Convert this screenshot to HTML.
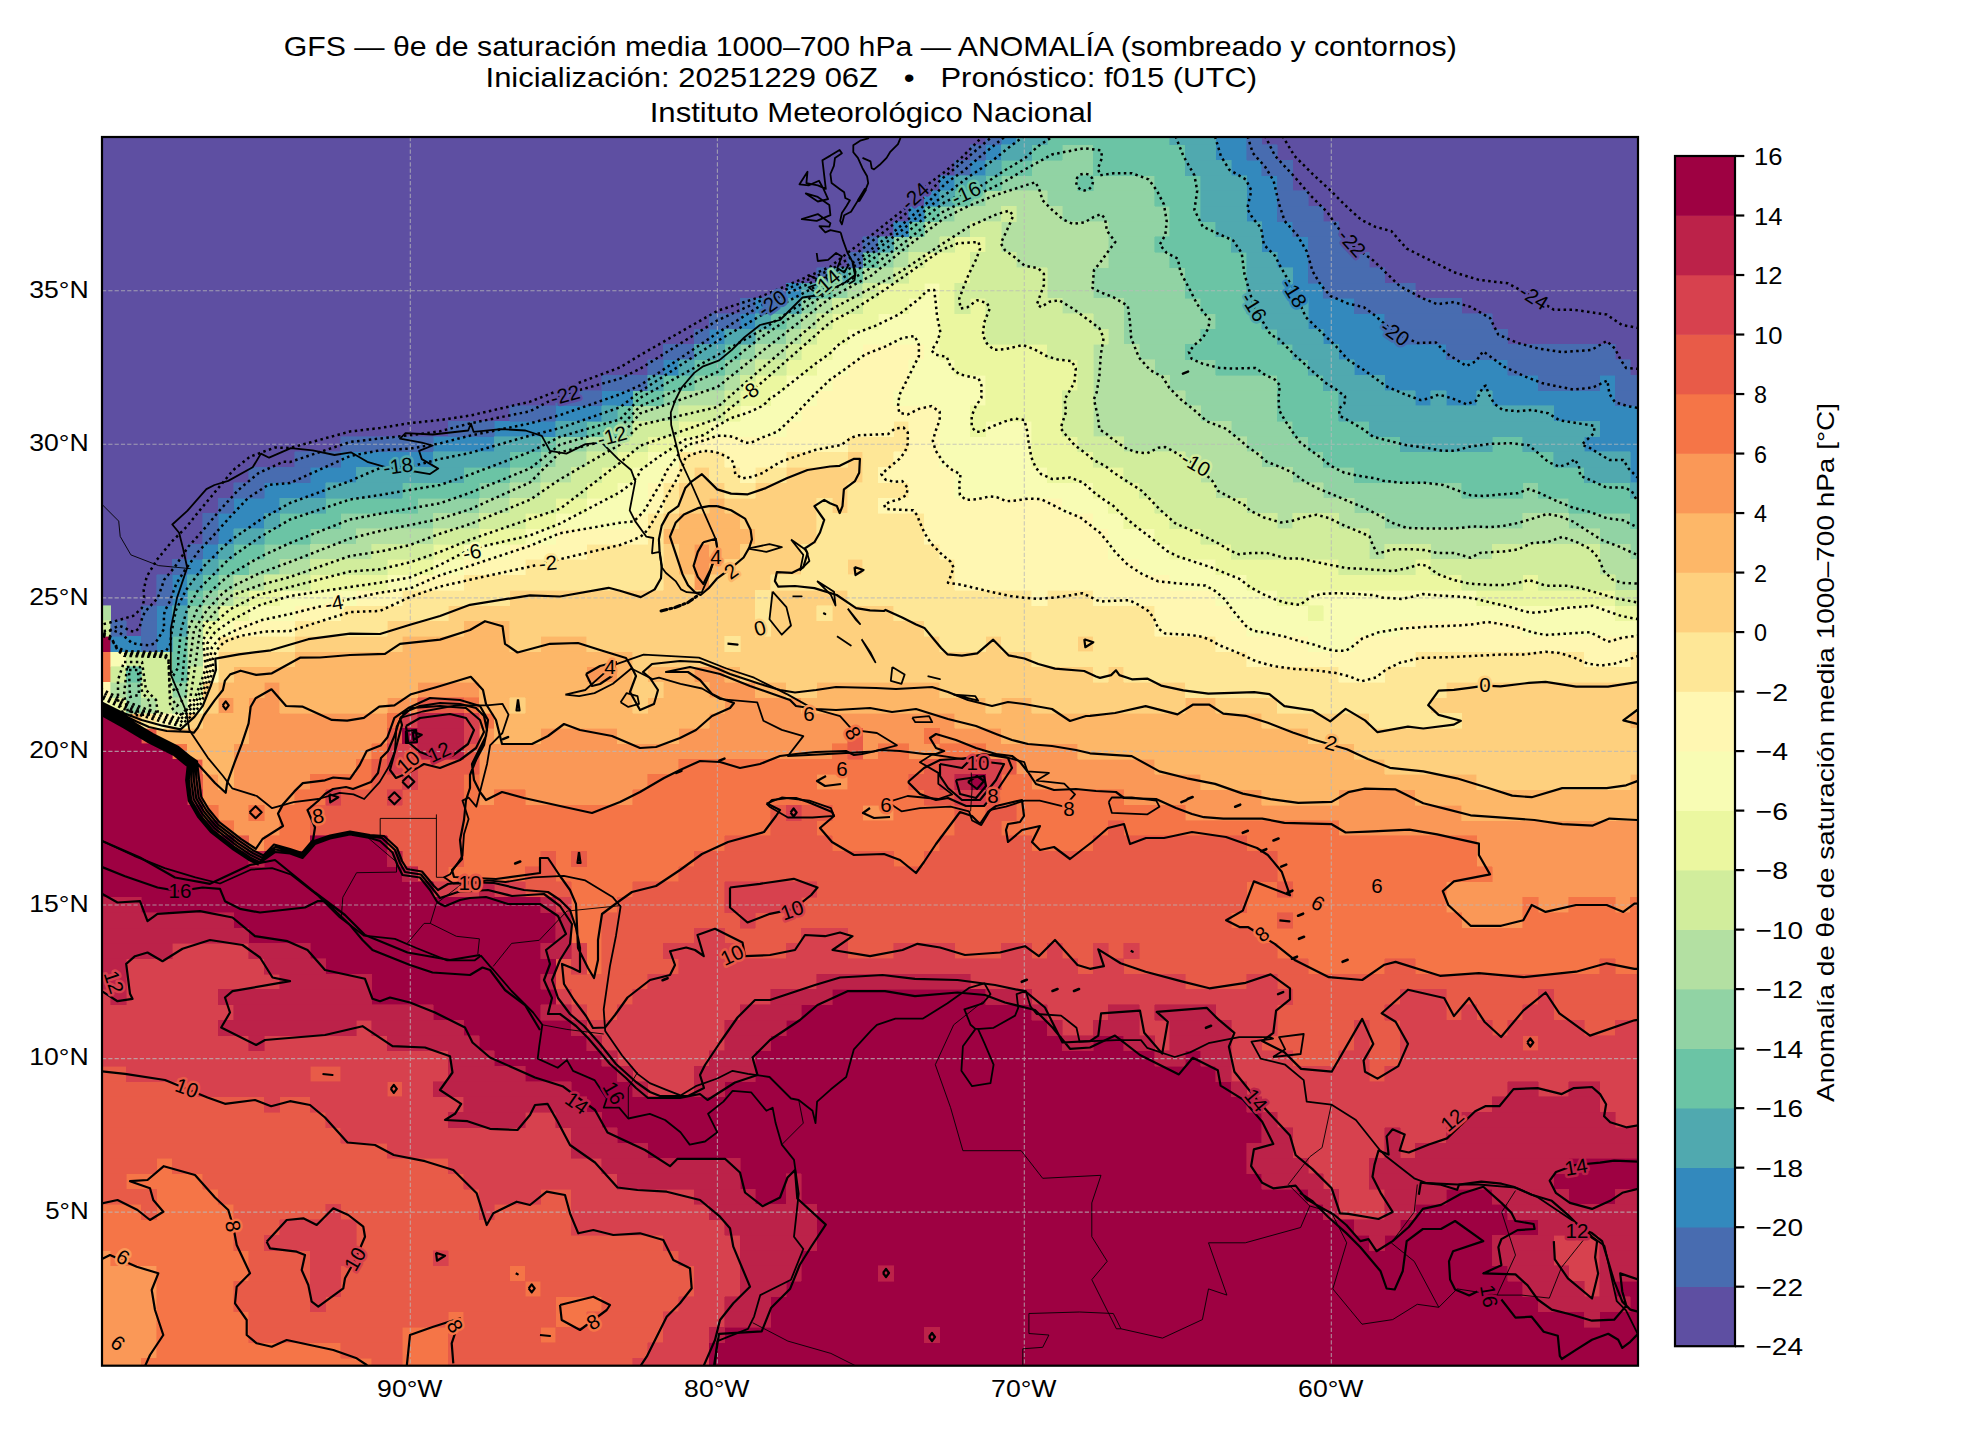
<!DOCTYPE html>
<html><head><meta charset="utf-8"><title>GFS</title><style>html,body{margin:0;padding:0;background:#fff;}svg{display:block;}text{font-family:"Liberation Sans",sans-serif;fill:#000;}</style></head><body>
<svg xmlns="http://www.w3.org/2000/svg" width="1980" height="1440" viewBox="0 0 1980 1440" font-family="Liberation Sans, sans-serif">
<defs><clipPath id="m"><rect x="102.0" y="137.0" width="1536.0" height="1228.7"/></clipPath></defs>
<rect x="0" y="0" width="1980" height="1440" fill="#fff"/>
<rect x="102.0" y="137.0" width="1536.0" height="1228.7" fill="#5e4fa2"/>
<g clip-path="url(#m)">
<path d="M95.35,1358.02H141.40V1373.38H95.35ZM95.35,1342.66H156.75V1358.02H95.35ZM95.35,1327.31H156.75V1342.66H95.35ZM95.35,1311.95H156.75V1327.31H95.35ZM95.35,1296.59H156.75V1311.95H95.35ZM95.35,1281.23H156.75V1296.59H95.35ZM95.35,1265.88H156.75V1281.23H95.35ZM95.35,1250.52H110.70V1265.88H95.35ZM1461.50,912.67H1522.90V928.02H1461.50ZM1446.15,897.31H1522.90V912.67H1446.15ZM1538.25,897.31H1568.95V912.67H1538.25ZM1615.00,897.31H1630.35V912.67H1615.00ZM1446.15,881.95H1661.05V897.31H1446.15ZM1492.20,866.60H1661.05V881.95H1492.20ZM1476.85,851.24H1661.05V866.60H1476.85ZM248.85,835.88H264.20V851.24H248.85ZM1476.85,835.88H1661.05V851.24H1476.85ZM233.50,820.52H279.55V835.88H233.50ZM1338.70,820.52H1661.05V835.88H1338.70ZM218.15,805.17H248.85V820.52H218.15ZM264.20,805.17H279.55V820.52H264.20ZM862.85,805.17H893.55V820.52H862.85ZM1185.20,805.17H1461.50V820.52H1185.20ZM202.80,789.81H294.90V805.17H202.80ZM479.10,789.81H494.45V805.17H479.10ZM525.15,789.81H632.60V805.17H525.15ZM1123.80,789.81H1261.95V805.17H1123.80ZM1338.70,789.81H1415.45V805.17H1338.70ZM202.80,774.45H218.15V789.81H202.80ZM233.50,774.45H310.25V789.81H233.50ZM479.10,774.45H647.95V789.81H479.10ZM816.80,774.45H847.50V789.81H816.80ZM1031.70,774.45H1200.55V789.81H1031.70ZM233.50,759.10H356.30V774.45H233.50ZM479.10,759.10H678.65V774.45H479.10ZM1016.35,759.10H1154.50V774.45H1016.35ZM233.50,743.74H371.65V759.10H233.50ZM479.10,743.74H832.15V759.10H479.10ZM862.85,743.74H878.20V759.10H862.85ZM908.90,743.74H939.60V759.10H908.90ZM985.65,743.74H1077.75V759.10H985.65ZM248.85,728.38H387.00V743.74H248.85ZM479.10,728.38H494.45V743.74H479.10ZM540.50,728.38H617.25V743.74H540.50ZM678.65,728.38H847.50V743.74H678.65ZM862.85,728.38H924.25V743.74H862.85ZM939.60,728.38H1001.00V743.74H939.60ZM248.85,713.03H387.00V728.38H248.85ZM709.35,713.03H954.95V728.38H709.35ZM218.15,697.67H233.50V713.03H218.15ZM248.85,697.67H279.55V713.03H248.85ZM387.00,697.67H417.70V713.03H387.00ZM724.70,697.67H801.45V713.03H724.70ZM264.20,682.31H279.55V697.67H264.20ZM417.70,682.31H479.10V697.67H417.70ZM709.35,682.31H755.40V697.67H709.35ZM586.55,666.96H617.25V682.31H586.55ZM694.00,666.96H724.70V682.31H694.00ZM694.00,574.81H709.35V590.17H694.00ZM694.00,559.46H709.35V574.81H694.00ZM694.00,544.10H709.35V559.46H694.00Z" fill="#fa9857" stroke="#fa9857" stroke-width="0.6" shape-rendering="crispEdges"/>
<path d="M141.40,1358.02H371.65V1373.38H141.40ZM402.35,1358.02H448.40V1373.38H402.35ZM156.75,1342.66H340.95V1358.02H156.75ZM402.35,1342.66H448.40V1358.02H402.35ZM156.75,1327.31H248.85V1342.66H156.75ZM402.35,1327.31H448.40V1342.66H402.35ZM540.50,1327.31H555.85V1342.66H540.50ZM156.75,1311.95H248.85V1327.31H156.75ZM448.40,1311.95H463.75V1327.31H448.40ZM555.85,1311.95H586.55V1327.31H555.85ZM156.75,1296.59H233.50V1311.95H156.75ZM555.85,1296.59H601.90V1311.95H555.85ZM156.75,1281.23H233.50V1296.59H156.75ZM525.15,1281.23H540.50V1296.59H525.15ZM156.75,1265.88H248.85V1281.23H156.75ZM509.80,1265.88H525.15V1281.23H509.80ZM110.70,1250.52H248.85V1265.88H110.70ZM95.35,1235.16H233.50V1250.52H95.35ZM95.35,1219.81H233.50V1235.16H95.35ZM95.35,1204.45H141.40V1219.81H95.35ZM156.75,1204.45H233.50V1219.81H156.75ZM156.75,1189.09H218.15V1204.45H156.75ZM126.05,1173.74H202.80V1189.09H126.05ZM156.75,1158.38H172.10V1173.74H156.75ZM586.55,958.74H601.90V974.10H586.55ZM1308.00,958.74H1384.75V974.10H1308.00ZM1415.45,958.74H1599.65V974.10H1415.45ZM1615.00,958.74H1661.05V974.10H1615.00ZM586.55,943.38H601.90V958.74H586.55ZM1277.30,943.38H1661.05V958.74H1277.30ZM571.20,928.02H601.90V943.38H571.20ZM1261.95,928.02H1661.05V943.38H1261.95ZM571.20,912.67H601.90V928.02H571.20ZM1231.25,912.67H1277.30V928.02H1231.25ZM1292.65,912.67H1461.50V928.02H1292.65ZM1522.90,912.67H1661.05V928.02H1522.90ZM571.20,897.31H617.25V912.67H571.20ZM1246.60,897.31H1446.15V912.67H1246.60ZM1522.90,897.31H1538.25V912.67H1522.90ZM1568.95,897.31H1615.00V912.67H1568.95ZM1630.35,897.31H1661.05V912.67H1630.35ZM571.20,881.95H632.60V897.31H571.20ZM1246.60,881.95H1277.30V897.31H1246.60ZM1292.65,881.95H1446.15V897.31H1292.65ZM448.40,866.60H525.15V881.95H448.40ZM555.85,866.60H678.65V881.95H555.85ZM1277.30,866.60H1492.20V881.95H1277.30ZM463.75,851.24H540.50V866.60H463.75ZM555.85,851.24H571.20V866.60H555.85ZM586.55,851.24H694.00V866.60H586.55ZM893.55,851.24H924.25V866.60H893.55ZM1277.30,851.24H1476.85V866.60H1277.30ZM264.20,835.88H310.25V851.24H264.20ZM463.75,835.88H724.70V851.24H463.75ZM832.15,835.88H939.60V851.24H832.15ZM1031.70,835.88H1093.10V851.24H1031.70ZM1246.60,835.88H1476.85V851.24H1246.60ZM218.15,820.52H233.50V835.88H218.15ZM279.55,820.52H310.25V835.88H279.55ZM463.75,820.52H770.75V835.88H463.75ZM816.80,820.52H954.95V835.88H816.80ZM1001.00,820.52H1108.45V835.88H1001.00ZM1123.80,820.52H1338.70V835.88H1123.80ZM202.80,805.17H218.15V820.52H202.80ZM248.85,805.17H264.20V820.52H248.85ZM279.55,805.17H310.25V820.52H279.55ZM463.75,805.17H770.75V820.52H463.75ZM832.15,805.17H862.85V820.52H832.15ZM893.55,805.17H954.95V820.52H893.55ZM970.30,805.17H985.65V820.52H970.30ZM1016.35,805.17H1185.20V820.52H1016.35ZM294.90,789.81H325.60V805.17H294.90ZM463.75,789.81H479.10V805.17H463.75ZM494.45,789.81H525.15V805.17H494.45ZM632.60,789.81H924.25V805.17H632.60ZM985.65,789.81H1123.80V805.17H985.65ZM310.25,774.45H371.65V789.81H310.25ZM463.75,774.45H479.10V789.81H463.75ZM647.95,774.45H816.80V789.81H647.95ZM847.50,774.45H908.90V789.81H847.50ZM1001.00,774.45H1031.70V789.81H1001.00ZM356.30,759.10H371.65V774.45H356.30ZM678.65,759.10H924.25V774.45H678.65ZM172.10,743.74H187.45V759.10H172.10ZM371.65,743.74H387.00V759.10H371.65ZM832.15,743.74H847.50V759.10H832.15ZM878.20,743.74H908.90V759.10H878.20ZM939.60,743.74H985.65V759.10H939.60ZM924.25,728.38H939.60V743.74H924.25ZM387.00,713.03H402.35V728.38H387.00ZM479.10,713.03H494.45V728.38H479.10ZM463.75,697.67H479.10V713.03H463.75ZM95.35,666.96H110.70V682.31H95.35ZM95.35,651.60H110.70V666.96H95.35Z" fill="#f57547" stroke="#f57547" stroke-width="0.6" shape-rendering="crispEdges"/>
<path d="M371.65,1358.02H402.35V1373.38H371.65ZM448.40,1358.02H632.60V1373.38H448.40ZM340.95,1342.66H402.35V1358.02H340.95ZM448.40,1342.66H647.95V1358.02H448.40ZM248.85,1327.31H402.35V1342.66H248.85ZM448.40,1327.31H540.50V1342.66H448.40ZM555.85,1327.31H663.30V1342.66H555.85ZM248.85,1311.95H448.40V1327.31H248.85ZM463.75,1311.95H555.85V1327.31H463.75ZM586.55,1311.95H663.30V1327.31H586.55ZM233.50,1296.59H310.25V1311.95H233.50ZM325.60,1296.59H555.85V1311.95H325.60ZM601.90,1296.59H678.65V1311.95H601.90ZM233.50,1281.23H310.25V1296.59H233.50ZM340.95,1281.23H525.15V1296.59H340.95ZM540.50,1281.23H694.00V1296.59H540.50ZM248.85,1265.88H310.25V1281.23H248.85ZM340.95,1265.88H509.80V1281.23H340.95ZM525.15,1265.88H694.00V1281.23H525.15ZM248.85,1250.52H310.25V1265.88H248.85ZM356.30,1250.52H433.05V1265.88H356.30ZM448.40,1250.52H678.65V1265.88H448.40ZM233.50,1235.16H264.20V1250.52H233.50ZM356.30,1235.16H663.30V1250.52H356.30ZM233.50,1219.81H279.55V1235.16H233.50ZM356.30,1219.81H571.20V1235.16H356.30ZM141.40,1204.45H156.75V1219.81H141.40ZM233.50,1204.45H325.60V1219.81H233.50ZM340.95,1204.45H479.10V1219.81H340.95ZM494.45,1204.45H571.20V1219.81H494.45ZM95.35,1189.09H156.75V1204.45H95.35ZM218.15,1189.09H479.10V1204.45H218.15ZM540.50,1189.09H571.20V1204.45H540.50ZM95.35,1173.74H126.05V1189.09H95.35ZM202.80,1173.74H463.75V1189.09H202.80ZM95.35,1158.38H156.75V1173.74H95.35ZM172.10,1158.38H448.40V1173.74H172.10ZM95.35,1143.02H387.00V1158.38H95.35ZM95.35,1127.66H340.95V1143.02H95.35ZM95.35,1112.31H325.60V1127.66H95.35ZM95.35,1096.95H264.20V1112.31H95.35ZM279.55,1096.95H310.25V1112.31H279.55ZM95.35,1081.59H187.45V1096.95H95.35ZM387.00,1081.59H402.35V1096.95H387.00ZM95.35,1066.24H126.05V1081.59H95.35ZM310.25,1066.24H340.95V1081.59H310.25ZM1369.40,1066.24H1384.75V1081.59H1369.40ZM1292.65,1050.88H1338.70V1066.24H1292.65ZM1369.40,1050.88H1400.10V1066.24H1369.40ZM1261.95,1035.52H1354.05V1050.88H1261.95ZM1369.40,1035.52H1400.10V1050.88H1369.40ZM1522.90,1035.52H1538.25V1050.88H1522.90ZM1277.30,1020.17H1354.05V1035.52H1277.30ZM1369.40,1020.17H1400.10V1035.52H1369.40ZM1492.20,1020.17H1507.55V1035.52H1492.20ZM1584.30,1020.17H1615.00V1035.52H1584.30ZM586.55,1004.81H617.25V1020.17H586.55ZM1277.30,1004.81H1384.75V1020.17H1277.30ZM1446.15,1004.81H1461.50V1020.17H1446.15ZM1476.85,1004.81H1522.90V1020.17H1476.85ZM1553.60,1004.81H1661.05V1020.17H1553.60ZM571.20,989.45H632.60V1004.81H571.20ZM1292.65,989.45H1400.10V1004.81H1292.65ZM1446.15,989.45H1538.25V1004.81H1446.15ZM1553.60,989.45H1661.05V1004.81H1553.60ZM555.85,974.10H647.95V989.45H555.85ZM1185.20,974.10H1246.60V989.45H1185.20ZM1277.30,974.10H1661.05V989.45H1277.30ZM555.85,958.74H571.20V974.10H555.85ZM601.90,958.74H678.65V974.10H601.90ZM1077.75,958.74H1093.10V974.10H1077.75ZM1123.80,958.74H1308.00V974.10H1123.80ZM1384.75,958.74H1415.45V974.10H1384.75ZM1599.65,958.74H1615.00V974.10H1599.65ZM601.90,943.38H663.30V958.74H601.90ZM740.05,943.38H786.10V958.74H740.05ZM847.50,943.38H893.55V958.74H847.50ZM954.95,943.38H1001.00V958.74H954.95ZM1031.70,943.38H1047.05V958.74H1031.70ZM1062.40,943.38H1093.10V958.74H1062.40ZM1108.45,943.38H1123.80V958.74H1108.45ZM1139.15,943.38H1277.30V958.74H1139.15ZM601.90,928.02H694.00V943.38H601.90ZM724.70,928.02H801.45V943.38H724.70ZM847.50,928.02H1261.95V943.38H847.50ZM601.90,912.67H740.05V928.02H601.90ZM755.40,912.67H1231.25V928.02H755.40ZM1277.30,912.67H1292.65V928.02H1277.30ZM617.25,897.31H724.70V912.67H617.25ZM801.45,897.31H1246.60V912.67H801.45ZM525.15,881.95H571.20V897.31H525.15ZM632.60,881.95H724.70V897.31H632.60ZM816.80,881.95H1246.60V897.31H816.80ZM1277.30,881.95H1292.65V897.31H1277.30ZM417.70,866.60H448.40V881.95H417.70ZM525.15,866.60H555.85V881.95H525.15ZM678.65,866.60H1277.30V881.95H678.65ZM402.35,851.24H463.75V866.60H402.35ZM540.50,851.24H555.85V866.60H540.50ZM571.20,851.24H586.55V866.60H571.20ZM694.00,851.24H893.55V866.60H694.00ZM924.25,851.24H1277.30V866.60H924.25ZM233.50,835.88H248.85V851.24H233.50ZM387.00,835.88H463.75V851.24H387.00ZM724.70,835.88H832.15V851.24H724.70ZM939.60,835.88H1031.70V851.24H939.60ZM1093.10,835.88H1246.60V851.24H1093.10ZM310.25,820.52H463.75V835.88H310.25ZM770.75,820.52H816.80V835.88H770.75ZM954.95,820.52H1001.00V835.88H954.95ZM1108.45,820.52H1123.80V835.88H1108.45ZM310.25,805.17H463.75V820.52H310.25ZM770.75,805.17H786.10V820.52H770.75ZM801.45,805.17H832.15V820.52H801.45ZM954.95,805.17H970.30V820.52H954.95ZM985.65,805.17H1016.35V820.52H985.65ZM340.95,789.81H387.00V805.17H340.95ZM402.35,789.81H463.75V805.17H402.35ZM924.25,789.81H954.95V805.17H924.25ZM187.45,774.45H202.80V789.81H187.45ZM371.65,774.45H402.35V789.81H371.65ZM417.70,774.45H463.75V789.81H417.70ZM908.90,774.45H939.60V789.81H908.90ZM187.45,759.10H202.80V774.45H187.45ZM371.65,759.10H387.00V774.45H371.65ZM417.70,759.10H479.10V774.45H417.70ZM924.25,759.10H939.60V774.45H924.25ZM1001.00,759.10H1016.35V774.45H1001.00ZM463.75,743.74H479.10V759.10H463.75ZM847.50,743.74H862.85V759.10H847.50ZM141.40,728.38H156.75V743.74H141.40ZM387.00,728.38H402.35V743.74H387.00ZM847.50,728.38H862.85V743.74H847.50ZM417.70,697.67H463.75V713.03H417.70Z" fill="#e85b48" stroke="#e85b48" stroke-width="0.6" shape-rendering="crispEdges"/>
<path d="M632.60,1358.02H709.35V1373.38H632.60ZM647.95,1342.66H709.35V1358.02H647.95ZM663.30,1327.31H709.35V1342.66H663.30ZM663.30,1311.95H724.70V1327.31H663.30ZM310.25,1296.59H325.60V1311.95H310.25ZM678.65,1296.59H724.70V1311.95H678.65ZM310.25,1281.23H340.95V1296.59H310.25ZM694.00,1281.23H740.05V1296.59H694.00ZM1584.30,1281.23H1599.65V1296.59H1584.30ZM310.25,1265.88H340.95V1281.23H310.25ZM694.00,1265.88H740.05V1281.23H694.00ZM1568.95,1265.88H1599.65V1281.23H1568.95ZM310.25,1250.52H356.30V1265.88H310.25ZM433.05,1250.52H448.40V1265.88H433.05ZM678.65,1250.52H740.05V1265.88H678.65ZM1553.60,1250.52H1599.65V1265.88H1553.60ZM264.20,1235.16H356.30V1250.52H264.20ZM663.30,1235.16H740.05V1250.52H663.30ZM1553.60,1235.16H1599.65V1250.52H1553.60ZM279.55,1219.81H356.30V1235.16H279.55ZM571.20,1219.81H724.70V1235.16H571.20ZM325.60,1204.45H340.95V1219.81H325.60ZM479.10,1204.45H494.45V1219.81H479.10ZM571.20,1204.45H709.35V1219.81H571.20ZM1338.70,1204.45H1384.75V1219.81H1338.70ZM479.10,1189.09H540.50V1204.45H479.10ZM571.20,1189.09H694.00V1204.45H571.20ZM1338.70,1189.09H1384.75V1204.45H1338.70ZM463.75,1173.74H617.25V1189.09H463.75ZM1323.35,1173.74H1369.40V1189.09H1323.35ZM448.40,1158.38H601.90V1173.74H448.40ZM1308.00,1158.38H1369.40V1173.74H1308.00ZM387.00,1143.02H571.20V1158.38H387.00ZM1292.65,1143.02H1384.75V1158.38H1292.65ZM1400.10,1143.02H1415.45V1158.38H1400.10ZM340.95,1127.66H571.20V1143.02H340.95ZM1292.65,1127.66H1384.75V1143.02H1292.65ZM1400.10,1127.66H1446.15V1143.02H1400.10ZM325.60,1112.31H448.40V1127.66H325.60ZM525.15,1112.31H555.85V1127.66H525.15ZM1277.30,1112.31H1461.50V1127.66H1277.30ZM1615.00,1112.31H1661.05V1127.66H1615.00ZM264.20,1096.95H279.55V1112.31H264.20ZM310.25,1096.95H463.75V1112.31H310.25ZM1261.95,1096.95H1492.20V1112.31H1261.95ZM1599.65,1096.95H1661.05V1112.31H1599.65ZM187.45,1081.59H387.00V1096.95H187.45ZM402.35,1081.59H433.05V1096.95H402.35ZM647.95,1081.59H694.00V1096.95H647.95ZM1246.60,1081.59H1507.55V1096.95H1246.60ZM1538.25,1081.59H1568.95V1096.95H1538.25ZM1599.65,1081.59H1661.05V1096.95H1599.65ZM126.05,1066.24H310.25V1081.59H126.05ZM340.95,1066.24H448.40V1081.59H340.95ZM632.60,1066.24H694.00V1081.59H632.60ZM1231.25,1066.24H1369.40V1081.59H1231.25ZM1384.75,1066.24H1661.05V1081.59H1384.75ZM95.35,1050.88H448.40V1066.24H95.35ZM617.25,1050.88H709.35V1066.24H617.25ZM1231.25,1050.88H1292.65V1066.24H1231.25ZM1338.70,1050.88H1369.40V1066.24H1338.70ZM1400.10,1050.88H1661.05V1066.24H1400.10ZM95.35,1035.52H248.85V1050.88H95.35ZM264.20,1035.52H387.00V1050.88H264.20ZM601.90,1035.52H724.70V1050.88H601.90ZM1154.50,1035.52H1169.85V1050.88H1154.50ZM1231.25,1035.52H1261.95V1050.88H1231.25ZM1354.05,1035.52H1369.40V1050.88H1354.05ZM1400.10,1035.52H1522.90V1050.88H1400.10ZM1538.25,1035.52H1661.05V1050.88H1538.25ZM95.35,1020.17H218.15V1035.52H95.35ZM356.30,1020.17H371.65V1035.52H356.30ZM586.55,1020.17H724.70V1035.52H586.55ZM1062.40,1020.17H1093.10V1035.52H1062.40ZM1139.15,1020.17H1169.85V1035.52H1139.15ZM1231.25,1020.17H1277.30V1035.52H1231.25ZM1354.05,1020.17H1369.40V1035.52H1354.05ZM1400.10,1020.17H1492.20V1035.52H1400.10ZM1507.55,1020.17H1584.30V1035.52H1507.55ZM1615.00,1020.17H1661.05V1035.52H1615.00ZM95.35,1004.81H233.50V1020.17H95.35ZM571.20,1004.81H586.55V1020.17H571.20ZM617.25,1004.81H740.05V1020.17H617.25ZM1047.05,1004.81H1108.45V1020.17H1047.05ZM1139.15,1004.81H1154.50V1020.17H1139.15ZM1215.90,1004.81H1277.30V1020.17H1215.90ZM1384.75,1004.81H1446.15V1020.17H1384.75ZM1461.50,1004.81H1476.85V1020.17H1461.50ZM1522.90,1004.81H1553.60V1020.17H1522.90ZM95.35,989.45H110.70V1004.81H95.35ZM126.05,989.45H218.15V1004.81H126.05ZM555.85,989.45H571.20V1004.81H555.85ZM632.60,989.45H770.75V1004.81H632.60ZM1031.70,989.45H1292.65V1004.81H1031.70ZM1400.10,989.45H1446.15V1004.81H1400.10ZM1538.25,989.45H1553.60V1004.81H1538.25ZM126.05,974.10H279.55V989.45H126.05ZM647.95,974.10H816.80V989.45H647.95ZM970.30,974.10H1185.20V989.45H970.30ZM1246.60,974.10H1277.30V989.45H1246.60ZM126.05,958.74H264.20V974.10H126.05ZM571.20,958.74H586.55V974.10H571.20ZM678.65,958.74H1077.75V974.10H678.65ZM1093.10,958.74H1123.80V974.10H1093.10ZM172.10,943.38H248.85V958.74H172.10ZM571.20,943.38H586.55V958.74H571.20ZM663.30,943.38H740.05V958.74H663.30ZM786.10,943.38H847.50V958.74H786.10ZM893.55,943.38H954.95V958.74H893.55ZM1001.00,943.38H1031.70V958.74H1001.00ZM1047.05,943.38H1062.40V958.74H1047.05ZM1093.10,943.38H1108.45V958.74H1093.10ZM1123.80,943.38H1139.15V958.74H1123.80ZM694.00,928.02H724.70V943.38H694.00ZM801.45,928.02H847.50V943.38H801.45ZM740.05,912.67H755.40V928.02H740.05ZM555.85,897.31H571.20V912.67H555.85ZM724.70,897.31H801.45V912.67H724.70ZM433.05,881.95H479.10V897.31H433.05ZM494.45,881.95H525.15V897.31H494.45ZM724.70,881.95H816.80V897.31H724.70ZM786.10,805.17H801.45V820.52H786.10ZM187.45,789.81H202.80V805.17H187.45ZM325.60,789.81H340.95V805.17H325.60ZM387.00,789.81H402.35V805.17H387.00ZM954.95,789.81H985.65V805.17H954.95ZM402.35,774.45H417.70V789.81H402.35ZM939.60,774.45H954.95V789.81H939.60ZM985.65,774.45H1001.00V789.81H985.65ZM387.00,759.10H417.70V774.45H387.00ZM939.60,759.10H1001.00V774.45H939.60ZM387.00,743.74H417.70V759.10H387.00ZM463.75,728.38H479.10V743.74H463.75ZM402.35,713.03H417.70V728.38H402.35ZM463.75,713.03H479.10V728.38H463.75Z" fill="#d7414e" stroke="#d7414e" stroke-width="0.6" shape-rendering="crispEdges"/>
<path d="M709.35,1358.02H1661.05V1373.38H709.35ZM709.35,1342.66H1661.05V1358.02H709.35ZM724.70,1327.31H924.25V1342.66H724.70ZM939.60,1327.31H1661.05V1342.66H939.60ZM770.75,1311.95H1584.30V1327.31H770.75ZM1599.65,1311.95H1661.05V1327.31H1599.65ZM770.75,1296.59H1538.25V1311.95H770.75ZM1630.35,1296.59H1661.05V1311.95H1630.35ZM786.10,1281.23H1522.90V1296.59H786.10ZM1615.00,1281.23H1661.05V1296.59H1615.00ZM801.45,1265.88H878.20V1281.23H801.45ZM893.55,1265.88H1507.55V1281.23H893.55ZM801.45,1250.52H1492.20V1265.88H801.45ZM816.80,1235.16H1369.40V1250.52H816.80ZM1384.75,1235.16H1492.20V1250.52H1384.75ZM816.80,1219.81H1354.05V1235.16H816.80ZM1400.10,1219.81H1538.25V1235.16H1400.10ZM816.80,1204.45H1323.35V1219.81H816.80ZM1415.45,1204.45H1507.55V1219.81H1415.45ZM755.40,1189.09H786.10V1204.45H755.40ZM801.45,1189.09H1308.00V1204.45H801.45ZM1446.15,1189.09H1492.20V1204.45H1446.15ZM1568.95,1189.09H1615.00V1204.45H1568.95ZM740.05,1173.74H786.10V1189.09H740.05ZM801.45,1173.74H1261.95V1189.09H801.45ZM1553.60,1173.74H1661.05V1189.09H1553.60ZM740.05,1158.38H1246.60V1173.74H740.05ZM1568.95,1158.38H1661.05V1173.74H1568.95ZM647.95,1143.02H1246.60V1158.38H647.95ZM617.25,1127.66H1261.95V1143.02H617.25ZM601.90,1112.31H1261.95V1127.66H601.90ZM586.55,1096.95H1246.60V1112.31H586.55ZM571.20,1081.59H632.60V1096.95H571.20ZM724.70,1081.59H1231.25V1096.95H724.70ZM525.15,1066.24H617.25V1081.59H525.15ZM755.40,1066.24H1215.90V1081.59H755.40ZM494.45,1050.88H601.90V1066.24H494.45ZM755.40,1050.88H1154.50V1066.24H755.40ZM1185.20,1050.88H1200.55V1066.24H1185.20ZM479.10,1035.52H586.55V1050.88H479.10ZM770.75,1035.52H1062.40V1050.88H770.75ZM1093.10,1035.52H1123.80V1050.88H1093.10ZM463.75,1020.17H571.20V1035.52H463.75ZM786.10,1020.17H1047.05V1035.52H786.10ZM433.05,1004.81H540.50V1020.17H433.05ZM801.45,1004.81H1031.70V1020.17H801.45ZM371.65,989.45H555.85V1004.81H371.65ZM832.15,989.45H985.65V1004.81H832.15ZM371.65,974.10H540.50V989.45H371.65ZM325.60,958.74H555.85V974.10H325.60ZM310.25,943.38H540.50V958.74H310.25ZM248.85,928.02H555.85V943.38H248.85ZM233.50,912.67H555.85V928.02H233.50ZM141.40,897.31H540.50V912.67H141.40ZM95.35,881.95H433.05V897.31H95.35ZM95.35,866.60H402.35V881.95H95.35ZM95.35,851.24H248.85V866.60H95.35ZM264.20,851.24H387.00V866.60H264.20ZM95.35,835.88H233.50V851.24H95.35ZM310.25,835.88H387.00V851.24H310.25ZM95.35,820.52H218.15V835.88H95.35ZM95.35,805.17H202.80V820.52H95.35ZM95.35,789.81H187.45V805.17H95.35ZM95.35,774.45H187.45V789.81H95.35ZM970.30,774.45H985.65V789.81H970.30ZM95.35,759.10H187.45V774.45H95.35ZM95.35,743.74H172.10V759.10H95.35ZM95.35,728.38H141.40V743.74H95.35ZM402.35,728.38H417.70V743.74H402.35ZM95.35,713.03H126.05V728.38H95.35ZM95.35,636.24H110.70V651.60H95.35Z" fill="#9e0142" stroke="#9e0142" stroke-width="0.6" shape-rendering="crispEdges"/>
<path d="M709.35,1327.31H724.70V1342.66H709.35ZM924.25,1327.31H939.60V1342.66H924.25ZM724.70,1311.95H770.75V1327.31H724.70ZM1584.30,1311.95H1599.65V1327.31H1584.30ZM724.70,1296.59H770.75V1311.95H724.70ZM1538.25,1296.59H1630.35V1311.95H1538.25ZM740.05,1281.23H786.10V1296.59H740.05ZM1522.90,1281.23H1584.30V1296.59H1522.90ZM1599.65,1281.23H1615.00V1296.59H1599.65ZM740.05,1265.88H801.45V1281.23H740.05ZM878.20,1265.88H893.55V1281.23H878.20ZM1507.55,1265.88H1568.95V1281.23H1507.55ZM1599.65,1265.88H1661.05V1281.23H1599.65ZM740.05,1250.52H801.45V1265.88H740.05ZM1492.20,1250.52H1553.60V1265.88H1492.20ZM1599.65,1250.52H1661.05V1265.88H1599.65ZM740.05,1235.16H816.80V1250.52H740.05ZM1369.40,1235.16H1384.75V1250.52H1369.40ZM1492.20,1235.16H1553.60V1250.52H1492.20ZM1599.65,1235.16H1661.05V1250.52H1599.65ZM724.70,1219.81H816.80V1235.16H724.70ZM1354.05,1219.81H1400.10V1235.16H1354.05ZM1538.25,1219.81H1661.05V1235.16H1538.25ZM709.35,1204.45H816.80V1219.81H709.35ZM1323.35,1204.45H1338.70V1219.81H1323.35ZM1384.75,1204.45H1415.45V1219.81H1384.75ZM1507.55,1204.45H1661.05V1219.81H1507.55ZM694.00,1189.09H755.40V1204.45H694.00ZM786.10,1189.09H801.45V1204.45H786.10ZM1308.00,1189.09H1338.70V1204.45H1308.00ZM1384.75,1189.09H1446.15V1204.45H1384.75ZM1492.20,1189.09H1568.95V1204.45H1492.20ZM1615.00,1189.09H1661.05V1204.45H1615.00ZM617.25,1173.74H740.05V1189.09H617.25ZM786.10,1173.74H801.45V1189.09H786.10ZM1261.95,1173.74H1323.35V1189.09H1261.95ZM1369.40,1173.74H1553.60V1189.09H1369.40ZM601.90,1158.38H740.05V1173.74H601.90ZM1246.60,1158.38H1308.00V1173.74H1246.60ZM1369.40,1158.38H1568.95V1173.74H1369.40ZM571.20,1143.02H647.95V1158.38H571.20ZM1246.60,1143.02H1292.65V1158.38H1246.60ZM1384.75,1143.02H1400.10V1158.38H1384.75ZM1415.45,1143.02H1661.05V1158.38H1415.45ZM571.20,1127.66H617.25V1143.02H571.20ZM1261.95,1127.66H1292.65V1143.02H1261.95ZM1384.75,1127.66H1400.10V1143.02H1384.75ZM1446.15,1127.66H1661.05V1143.02H1446.15ZM448.40,1112.31H525.15V1127.66H448.40ZM555.85,1112.31H601.90V1127.66H555.85ZM1261.95,1112.31H1277.30V1127.66H1261.95ZM1461.50,1112.31H1615.00V1127.66H1461.50ZM463.75,1096.95H586.55V1112.31H463.75ZM1246.60,1096.95H1261.95V1112.31H1246.60ZM1492.20,1096.95H1599.65V1112.31H1492.20ZM433.05,1081.59H571.20V1096.95H433.05ZM632.60,1081.59H647.95V1096.95H632.60ZM694.00,1081.59H724.70V1096.95H694.00ZM1231.25,1081.59H1246.60V1096.95H1231.25ZM1507.55,1081.59H1538.25V1096.95H1507.55ZM1568.95,1081.59H1599.65V1096.95H1568.95ZM448.40,1066.24H525.15V1081.59H448.40ZM617.25,1066.24H632.60V1081.59H617.25ZM694.00,1066.24H755.40V1081.59H694.00ZM1215.90,1066.24H1231.25V1081.59H1215.90ZM448.40,1050.88H494.45V1066.24H448.40ZM601.90,1050.88H617.25V1066.24H601.90ZM709.35,1050.88H755.40V1066.24H709.35ZM1154.50,1050.88H1185.20V1066.24H1154.50ZM1200.55,1050.88H1231.25V1066.24H1200.55ZM248.85,1035.52H264.20V1050.88H248.85ZM387.00,1035.52H479.10V1050.88H387.00ZM586.55,1035.52H601.90V1050.88H586.55ZM724.70,1035.52H770.75V1050.88H724.70ZM1062.40,1035.52H1093.10V1050.88H1062.40ZM1123.80,1035.52H1154.50V1050.88H1123.80ZM1169.85,1035.52H1231.25V1050.88H1169.85ZM218.15,1020.17H356.30V1035.52H218.15ZM371.65,1020.17H463.75V1035.52H371.65ZM571.20,1020.17H586.55V1035.52H571.20ZM724.70,1020.17H786.10V1035.52H724.70ZM1047.05,1020.17H1062.40V1035.52H1047.05ZM1093.10,1020.17H1139.15V1035.52H1093.10ZM1169.85,1020.17H1231.25V1035.52H1169.85ZM233.50,1004.81H433.05V1020.17H233.50ZM540.50,1004.81H571.20V1020.17H540.50ZM740.05,1004.81H801.45V1020.17H740.05ZM1031.70,1004.81H1047.05V1020.17H1031.70ZM1108.45,1004.81H1139.15V1020.17H1108.45ZM1154.50,1004.81H1215.90V1020.17H1154.50ZM110.70,989.45H126.05V1004.81H110.70ZM218.15,989.45H371.65V1004.81H218.15ZM770.75,989.45H832.15V1004.81H770.75ZM985.65,989.45H1031.70V1004.81H985.65ZM95.35,974.10H126.05V989.45H95.35ZM279.55,974.10H371.65V989.45H279.55ZM540.50,974.10H555.85V989.45H540.50ZM816.80,974.10H970.30V989.45H816.80ZM95.35,958.74H126.05V974.10H95.35ZM264.20,958.74H325.60V974.10H264.20ZM95.35,943.38H172.10V958.74H95.35ZM248.85,943.38H310.25V958.74H248.85ZM540.50,943.38H571.20V958.74H540.50ZM95.35,928.02H248.85V943.38H95.35ZM555.85,928.02H571.20V943.38H555.85ZM95.35,912.67H233.50V928.02H95.35ZM555.85,912.67H571.20V928.02H555.85ZM95.35,897.31H141.40V912.67H95.35ZM540.50,897.31H555.85V912.67H540.50ZM479.10,881.95H494.45V897.31H479.10ZM402.35,866.60H417.70V881.95H402.35ZM248.85,851.24H264.20V866.60H248.85ZM387.00,851.24H402.35V866.60H387.00ZM954.95,774.45H970.30V789.81H954.95ZM417.70,743.74H463.75V759.10H417.70ZM417.70,728.38H463.75V743.74H417.70ZM417.70,713.03H463.75V728.38H417.70Z" fill="#bc2249" stroke="#bc2249" stroke-width="0.6" shape-rendering="crispEdges"/>
<path d="M1461.50,805.17H1661.05V820.52H1461.50ZM1261.95,789.81H1338.70V805.17H1261.95ZM1415.45,789.81H1661.05V805.17H1415.45ZM218.15,774.45H233.50V789.81H218.15ZM1200.55,774.45H1476.85V789.81H1200.55ZM1630.35,774.45H1661.05V789.81H1630.35ZM202.80,759.10H233.50V774.45H202.80ZM1154.50,759.10H1384.75V774.45H1154.50ZM187.45,743.74H233.50V759.10H187.45ZM1077.75,743.74H1354.05V759.10H1077.75ZM156.75,728.38H248.85V743.74H156.75ZM494.45,728.38H540.50V743.74H494.45ZM617.25,728.38H678.65V743.74H617.25ZM1001.00,728.38H1308.00V743.74H1001.00ZM126.05,713.03H141.40V728.38H126.05ZM202.80,713.03H248.85V728.38H202.80ZM494.45,713.03H709.35V728.38H494.45ZM954.95,713.03H1261.95V728.38H954.95ZM1630.35,713.03H1661.05V728.38H1630.35ZM233.50,697.67H248.85V713.03H233.50ZM279.55,697.67H387.00V713.03H279.55ZM479.10,697.67H509.80V713.03H479.10ZM525.15,697.67H632.60V713.03H525.15ZM647.95,697.67H724.70V713.03H647.95ZM801.45,697.67H985.65V713.03H801.45ZM1001.00,697.67H1031.70V713.03H1001.00ZM1185.20,697.67H1215.90V713.03H1185.20ZM218.15,682.31H264.20V697.67H218.15ZM279.55,682.31H417.70V697.67H279.55ZM479.10,682.31H632.60V697.67H479.10ZM663.30,682.31H709.35V697.67H663.30ZM755.40,682.31H786.10V697.67H755.40ZM816.80,682.31H939.60V697.67H816.80ZM233.50,666.96H586.55V682.31H233.50ZM617.25,666.96H632.60V682.31H617.25ZM647.95,666.96H694.00V682.31H647.95ZM724.70,666.96H740.05V682.31H724.70ZM294.90,651.60H632.60V666.96H294.90ZM402.35,636.24H509.80V651.60H402.35ZM540.50,636.24H586.55V651.60H540.50ZM463.75,620.88H509.80V636.24H463.75ZM678.65,559.46H694.00V574.81H678.65ZM709.35,559.46H724.70V574.81H709.35ZM678.65,544.10H694.00V559.46H678.65ZM709.35,544.10H740.05V559.46H709.35ZM663.30,528.74H755.40V544.10H663.30ZM678.65,513.38H740.05V528.74H678.65ZM709.35,498.03H724.70V513.38H709.35Z" fill="#fdb768" stroke="#fdb768" stroke-width="0.6" shape-rendering="crispEdges"/>
<path d="M1476.85,774.45H1630.35V789.81H1476.85ZM1384.75,759.10H1661.05V774.45H1384.75ZM1354.05,743.74H1661.05V759.10H1354.05ZM1308.00,728.38H1661.05V743.74H1308.00ZM187.45,713.03H202.80V728.38H187.45ZM1261.95,713.03H1369.40V728.38H1261.95ZM1461.50,713.03H1630.35V728.38H1461.50ZM202.80,697.67H218.15V713.03H202.80ZM509.80,697.67H525.15V713.03H509.80ZM632.60,697.67H647.95V713.03H632.60ZM985.65,697.67H1001.00V713.03H985.65ZM1031.70,697.67H1185.20V713.03H1031.70ZM1215.90,697.67H1277.30V713.03H1215.90ZM1430.80,697.67H1661.05V713.03H1430.80ZM202.80,682.31H218.15V697.67H202.80ZM632.60,682.31H663.30V697.67H632.60ZM786.10,682.31H816.80V697.67H786.10ZM939.60,682.31H1185.20V697.67H939.60ZM1446.15,682.31H1661.05V697.67H1446.15ZM218.15,666.96H233.50V682.31H218.15ZM632.60,666.96H647.95V682.31H632.60ZM740.05,666.96H1093.10V682.31H740.05ZM1108.45,666.96H1123.80V682.31H1108.45ZM218.15,651.60H294.90V666.96H218.15ZM632.60,651.60H1031.70V666.96H632.60ZM294.90,636.24H402.35V651.60H294.90ZM509.80,636.24H540.50V651.60H509.80ZM586.55,636.24H724.70V651.60H586.55ZM740.05,636.24H939.60V651.60H740.05ZM985.65,636.24H1001.00V651.60H985.65ZM1077.75,636.24H1093.10V651.60H1077.75ZM387.00,620.88H463.75V636.24H387.00ZM509.80,620.88H755.40V636.24H509.80ZM770.75,620.88H924.25V636.24H770.75ZM448.40,605.53H755.40V620.88H448.40ZM770.75,605.53H816.80V620.88H770.75ZM832.15,605.53H893.55V620.88H832.15ZM509.80,590.17H755.40V605.53H509.80ZM770.75,590.17H847.50V605.53H770.75ZM663.30,574.81H694.00V590.17H663.30ZM709.35,574.81H770.75V590.17H709.35ZM663.30,559.46H678.65V574.81H663.30ZM724.70,559.46H801.45V574.81H724.70ZM847.50,559.46H862.85V574.81H847.50ZM663.30,544.10H678.65V559.46H663.30ZM740.05,544.10H801.45V559.46H740.05ZM755.40,528.74H816.80V544.10H755.40ZM663.30,513.38H678.65V528.74H663.30ZM740.05,513.38H816.80V528.74H740.05ZM678.65,498.03H709.35V513.38H678.65ZM724.70,498.03H816.80V513.38H724.70ZM832.15,498.03H847.50V513.38H832.15ZM678.65,482.67H724.70V498.03H678.65ZM755.40,482.67H847.50V498.03H755.40ZM694.00,467.31H709.35V482.67H694.00ZM786.10,467.31H862.85V482.67H786.10ZM847.50,451.96H862.85V467.31H847.50Z" fill="#fed07e" stroke="#fed07e" stroke-width="0.6" shape-rendering="crispEdges"/>
<path d="M141.40,713.03H156.75V728.38H141.40ZM1369.40,713.03H1461.50V728.38H1369.40ZM1277.30,697.67H1430.80V713.03H1277.30ZM1185.20,682.31H1446.15V697.67H1185.20ZM1093.10,666.96H1108.45V682.31H1093.10ZM1123.80,666.96H1338.70V682.31H1123.80ZM1384.75,666.96H1661.05V682.31H1384.75ZM1031.70,651.60H1246.60V666.96H1031.70ZM1415.45,651.60H1584.30V666.96H1415.45ZM1630.35,651.60H1661.05V666.96H1630.35ZM218.15,636.24H294.90V651.60H218.15ZM724.70,636.24H740.05V651.60H724.70ZM939.60,636.24H985.65V651.60H939.60ZM1001.00,636.24H1077.75V651.60H1001.00ZM1093.10,636.24H1215.90V651.60H1093.10ZM294.90,620.88H387.00V636.24H294.90ZM755.40,620.88H770.75V636.24H755.40ZM924.25,620.88H1154.50V636.24H924.25ZM340.95,605.53H448.40V620.88H340.95ZM755.40,605.53H770.75V620.88H755.40ZM816.80,605.53H832.15V620.88H816.80ZM893.55,605.53H1154.50V620.88H893.55ZM402.35,590.17H509.80V605.53H402.35ZM755.40,590.17H770.75V605.53H755.40ZM847.50,590.17H1031.70V605.53H847.50ZM1047.05,590.17H1093.10V605.53H1047.05ZM463.75,574.81H663.30V590.17H463.75ZM770.75,574.81H954.95V590.17H770.75ZM525.15,559.46H663.30V574.81H525.15ZM801.45,559.46H847.50V574.81H801.45ZM862.85,559.46H954.95V574.81H862.85ZM586.55,544.10H663.30V559.46H586.55ZM801.45,544.10H939.60V559.46H801.45ZM647.95,528.74H663.30V544.10H647.95ZM816.80,528.74H924.25V544.10H816.80ZM647.95,513.38H663.30V528.74H647.95ZM816.80,513.38H924.25V528.74H816.80ZM663.30,498.03H678.65V513.38H663.30ZM816.80,498.03H832.15V513.38H816.80ZM847.50,498.03H878.20V513.38H847.50ZM663.30,482.67H678.65V498.03H663.30ZM724.70,482.67H755.40V498.03H724.70ZM847.50,482.67H908.90V498.03H847.50ZM678.65,467.31H694.00V482.67H678.65ZM709.35,467.31H740.05V482.67H709.35ZM755.40,467.31H786.10V482.67H755.40ZM862.85,467.31H878.20V482.67H862.85ZM678.65,451.96H724.70V467.31H678.65ZM786.10,451.96H847.50V467.31H786.10ZM862.85,451.96H893.55V467.31H862.85ZM847.50,436.60H908.90V451.96H847.50ZM893.55,421.24H908.90V436.60H893.55Z" fill="#fee797" stroke="#fee797" stroke-width="0.6" shape-rendering="crispEdges"/>
<path d="M156.75,713.03H172.10V728.38H156.75ZM95.35,682.31H110.70V697.67H95.35ZM202.80,666.96H218.15V682.31H202.80ZM1338.70,666.96H1384.75V682.31H1338.70ZM202.80,651.60H218.15V666.96H202.80ZM1246.60,651.60H1415.45V666.96H1246.60ZM1584.30,651.60H1630.35V666.96H1584.30ZM1215.90,636.24H1308.00V651.60H1215.90ZM1354.05,636.24H1661.05V651.60H1354.05ZM233.50,620.88H294.90V636.24H233.50ZM1154.50,620.88H1246.60V636.24H1154.50ZM1400.10,620.88H1522.90V636.24H1400.10ZM294.90,605.53H340.95V620.88H294.90ZM1154.50,605.53H1231.25V620.88H1154.50ZM356.30,590.17H402.35V605.53H356.30ZM1031.70,590.17H1047.05V605.53H1031.70ZM1093.10,590.17H1215.90V605.53H1093.10ZM417.70,574.81H463.75V590.17H417.70ZM954.95,574.81H1169.85V590.17H954.95ZM463.75,559.46H525.15V574.81H463.75ZM954.95,559.46H1139.15V574.81H954.95ZM509.80,544.10H586.55V559.46H509.80ZM939.60,544.10H1108.45V559.46H939.60ZM555.85,528.74H647.95V544.10H555.85ZM924.25,528.74H1108.45V544.10H924.25ZM632.60,513.38H647.95V528.74H632.60ZM924.25,513.38H1093.10V528.74H924.25ZM647.95,498.03H663.30V513.38H647.95ZM878.20,498.03H1062.40V513.38H878.20ZM647.95,482.67H663.30V498.03H647.95ZM908.90,482.67H954.95V498.03H908.90ZM663.30,467.31H678.65V482.67H663.30ZM740.05,467.31H755.40V482.67H740.05ZM878.20,467.31H954.95V482.67H878.20ZM724.70,451.96H786.10V467.31H724.70ZM893.55,451.96H939.60V467.31H893.55ZM694.00,436.60H847.50V451.96H694.00ZM908.90,436.60H939.60V451.96H908.90ZM786.10,421.24H893.55V436.60H786.10ZM908.90,421.24H939.60V436.60H908.90ZM801.45,405.89H939.60V421.24H801.45ZM816.80,390.53H893.55V405.89H816.80ZM832.15,375.17H908.90V390.53H832.15ZM847.50,359.82H908.90V375.17H847.50ZM862.85,344.46H924.25V359.82H862.85Z" fill="#fff7b2" stroke="#fff7b2" stroke-width="0.6" shape-rendering="crispEdges"/>
<path d="M172.10,713.03H187.45V728.38H172.10ZM95.35,697.67H110.70V713.03H95.35ZM187.45,697.67H202.80V713.03H187.45ZM110.70,651.60H126.05V666.96H110.70ZM202.80,636.24H218.15V651.60H202.80ZM1308.00,636.24H1354.05V651.60H1308.00ZM218.15,620.88H233.50V636.24H218.15ZM1246.60,620.88H1400.10V636.24H1246.60ZM1522.90,620.88H1661.05V636.24H1522.90ZM248.85,605.53H294.90V620.88H248.85ZM1231.25,605.53H1308.00V620.88H1231.25ZM1323.35,605.53H1615.00V620.88H1323.35ZM279.55,590.17H356.30V605.53H279.55ZM1215.90,590.17H1277.30V605.53H1215.90ZM1308.00,590.17H1476.85V605.53H1308.00ZM387.00,574.81H417.70V590.17H387.00ZM1169.85,574.81H1246.60V590.17H1169.85ZM433.05,559.46H463.75V574.81H433.05ZM1139.15,559.46H1215.90V574.81H1139.15ZM463.75,544.10H509.80V559.46H463.75ZM1108.45,544.10H1169.85V559.46H1108.45ZM525.15,528.74H555.85V544.10H525.15ZM1108.45,528.74H1154.50V544.10H1108.45ZM555.85,513.38H632.60V528.74H555.85ZM1093.10,513.38H1123.80V528.74H1093.10ZM586.55,498.03H647.95V513.38H586.55ZM1062.40,498.03H1108.45V513.38H1062.40ZM617.25,482.67H647.95V498.03H617.25ZM954.95,482.67H1093.10V498.03H954.95ZM632.60,467.31H663.30V482.67H632.60ZM954.95,467.31H1047.05V482.67H954.95ZM647.95,451.96H678.65V467.31H647.95ZM939.60,451.96H1031.70V467.31H939.60ZM678.65,436.60H694.00V451.96H678.65ZM939.60,436.60H1031.70V451.96H939.60ZM709.35,421.24H786.10V436.60H709.35ZM939.60,421.24H970.30V436.60H939.60ZM985.65,421.24H1031.70V436.60H985.65ZM740.05,405.89H801.45V421.24H740.05ZM939.60,405.89H970.30V421.24H939.60ZM770.75,390.53H816.80V405.89H770.75ZM893.55,390.53H985.65V405.89H893.55ZM786.10,375.17H832.15V390.53H786.10ZM908.90,375.17H985.65V390.53H908.90ZM816.80,359.82H847.50V375.17H816.80ZM908.90,359.82H954.95V375.17H908.90ZM832.15,344.46H862.85V359.82H832.15ZM924.25,344.46H939.60V359.82H924.25ZM847.50,329.10H939.60V344.46H847.50ZM878.20,313.74H939.60V329.10H878.20ZM908.90,298.39H939.60V313.74H908.90ZM924.25,283.03H939.60V298.39H924.25Z" fill="#f8fcb4" stroke="#f8fcb4" stroke-width="0.6" shape-rendering="crispEdges"/>
<path d="M110.70,697.67H126.05V713.03H110.70ZM202.80,620.88H218.15V636.24H202.80ZM218.15,605.53H248.85V620.88H218.15ZM1308.00,605.53H1323.35V620.88H1308.00ZM1615.00,605.53H1661.05V620.88H1615.00ZM248.85,590.17H279.55V605.53H248.85ZM1277.30,590.17H1308.00V605.53H1277.30ZM1476.85,590.17H1615.00V605.53H1476.85ZM310.25,574.81H387.00V590.17H310.25ZM1246.60,574.81H1461.50V590.17H1246.60ZM1522.90,574.81H1538.25V590.17H1522.90ZM387.00,559.46H433.05V574.81H387.00ZM1215.90,559.46H1338.70V574.81H1215.90ZM1415.45,559.46H1430.80V574.81H1415.45ZM433.05,544.10H463.75V559.46H433.05ZM1169.85,544.10H1231.25V559.46H1169.85ZM479.10,528.74H525.15V544.10H479.10ZM1154.50,528.74H1200.55V544.10H1154.50ZM525.15,513.38H555.85V528.74H525.15ZM1123.80,513.38H1169.85V528.74H1123.80ZM555.85,498.03H586.55V513.38H555.85ZM1108.45,498.03H1154.50V513.38H1108.45ZM586.55,482.67H617.25V498.03H586.55ZM1093.10,482.67H1139.15V498.03H1093.10ZM601.90,467.31H632.60V482.67H601.90ZM1047.05,467.31H1123.80V482.67H1047.05ZM617.25,451.96H647.95V467.31H617.25ZM1031.70,451.96H1093.10V467.31H1031.70ZM647.95,436.60H678.65V451.96H647.95ZM1031.70,436.60H1077.75V451.96H1031.70ZM678.65,421.24H709.35V436.60H678.65ZM970.30,421.24H985.65V436.60H970.30ZM1031.70,421.24H1062.40V436.60H1031.70ZM724.70,405.89H740.05V421.24H724.70ZM970.30,405.89H1062.40V421.24H970.30ZM740.05,390.53H770.75V405.89H740.05ZM985.65,390.53H1062.40V405.89H985.65ZM755.40,375.17H786.10V390.53H755.40ZM985.65,375.17H1077.75V390.53H985.65ZM786.10,359.82H816.80V375.17H786.10ZM954.95,359.82H1077.75V375.17H954.95ZM801.45,344.46H832.15V359.82H801.45ZM939.60,344.46H1047.05V359.82H939.60ZM816.80,329.10H847.50V344.46H816.80ZM939.60,329.10H985.65V344.46H939.60ZM832.15,313.74H878.20V329.10H832.15ZM939.60,313.74H985.65V329.10H939.60ZM862.85,298.39H908.90V313.74H862.85ZM939.60,298.39H954.95V313.74H939.60ZM970.30,298.39H985.65V313.74H970.30ZM878.20,283.03H924.25V298.39H878.20ZM939.60,283.03H954.95V298.39H939.60ZM908.90,267.67H970.30V283.03H908.90ZM924.25,252.32H970.30V267.67H924.25ZM954.95,236.96H985.65V252.32H954.95Z" fill="#ebf7a0" stroke="#ebf7a0" stroke-width="0.6" shape-rendering="crispEdges"/>
<path d="M126.05,697.67H141.40V713.03H126.05ZM126.05,682.31H141.40V697.67H126.05ZM172.10,682.31H187.45V697.67H172.10ZM187.45,605.53H202.80V620.88H187.45ZM202.80,590.17H218.15V605.53H202.80ZM218.15,574.81H233.50V590.17H218.15ZM248.85,559.46H279.55V574.81H248.85ZM264.20,544.10H310.25V559.46H264.20ZM1630.35,544.10H1661.05V559.46H1630.35ZM310.25,528.74H356.30V544.10H310.25ZM1599.65,528.74H1661.05V544.10H1599.65ZM340.95,513.38H433.05V528.74H340.95ZM1384.75,513.38H1522.90V528.74H1384.75ZM1568.95,513.38H1630.35V528.74H1568.95ZM417.70,498.03H479.10V513.38H417.70ZM1354.05,498.03H1568.95V513.38H1354.05ZM479.10,482.67H509.80V498.03H479.10ZM1323.35,482.67H1461.50V498.03H1323.35ZM1522.90,482.67H1538.25V498.03H1522.90ZM509.80,467.31H540.50V482.67H509.80ZM1292.65,467.31H1354.05V482.67H1292.65ZM540.50,451.96H555.85V467.31H540.50ZM1261.95,451.96H1323.35V467.31H1261.95ZM555.85,436.60H586.55V451.96H555.85ZM1246.60,436.60H1308.00V451.96H1246.60ZM617.25,421.24H632.60V436.60H617.25ZM1231.25,421.24H1292.65V436.60H1231.25ZM1200.55,405.89H1277.30V421.24H1200.55ZM663.30,390.53H678.65V405.89H663.30ZM1185.20,390.53H1277.30V405.89H1185.20ZM694.00,375.17H724.70V390.53H694.00ZM1169.85,375.17H1277.30V390.53H1169.85ZM724.70,359.82H740.05V375.17H724.70ZM1154.50,359.82H1215.90V375.17H1154.50ZM740.05,344.46H755.40V359.82H740.05ZM1139.15,344.46H1185.20V359.82H1139.15ZM755.40,329.10H786.10V344.46H755.40ZM1123.80,329.10H1200.55V344.46H1123.80ZM786.10,313.74H801.45V329.10H786.10ZM1123.80,313.74H1215.90V329.10H1123.80ZM801.45,298.39H816.80V313.74H801.45ZM1123.80,298.39H1200.55V313.74H1123.80ZM832.15,283.03H847.50V298.39H832.15ZM1093.10,283.03H1185.20V298.39H1093.10ZM1093.10,267.67H1185.20V283.03H1093.10ZM878.20,252.32H893.55V267.67H878.20ZM1108.45,252.32H1169.85V267.67H1108.45ZM893.55,236.96H908.90V252.32H893.55ZM1108.45,236.96H1154.50V252.32H1108.45ZM1108.45,221.60H1169.85V236.96H1108.45ZM939.60,206.25H954.95V221.60H939.60ZM1062.40,206.25H1169.85V221.60H1062.40ZM970.30,190.89H985.65V206.25H970.30ZM1047.05,190.89H1154.50V206.25H1047.05ZM1001.00,175.53H1077.75V190.89H1001.00ZM1093.10,175.53H1154.50V190.89H1093.10ZM1031.70,160.17H1093.10V175.53H1031.70ZM1062.40,144.82H1093.10V160.17H1062.40Z" fill="#91d3a4" stroke="#91d3a4" stroke-width="0.6" shape-rendering="crispEdges"/>
<path d="M141.40,697.67H156.75V713.03H141.40ZM172.10,697.67H187.45V713.03H172.10ZM110.70,682.31H126.05V697.67H110.70ZM187.45,651.60H202.80V666.96H187.45ZM187.45,636.24H202.80V651.60H187.45ZM187.45,620.88H202.80V636.24H187.45ZM95.35,605.53H110.70V620.88H95.35ZM202.80,605.53H218.15V620.88H202.80ZM218.15,590.17H233.50V605.53H218.15ZM233.50,574.81H264.20V590.17H233.50ZM1615.00,574.81H1661.05V590.17H1615.00ZM279.55,559.46H310.25V574.81H279.55ZM1599.65,559.46H1661.05V574.81H1599.65ZM310.25,544.10H371.65V559.46H310.25ZM1369.40,544.10H1384.75V559.46H1369.40ZM1430.80,544.10H1492.20V559.46H1430.80ZM1599.65,544.10H1630.35V559.46H1599.65ZM356.30,528.74H433.05V544.10H356.30ZM1369.40,528.74H1599.65V544.10H1369.40ZM433.05,513.38H479.10V528.74H433.05ZM1277.30,513.38H1292.65V528.74H1277.30ZM1338.70,513.38H1384.75V528.74H1338.70ZM1522.90,513.38H1568.95V528.74H1522.90ZM479.10,498.03H509.80V513.38H479.10ZM1246.60,498.03H1354.05V513.38H1246.60ZM509.80,482.67H540.50V498.03H509.80ZM1215.90,482.67H1323.35V498.03H1215.90ZM540.50,467.31H571.20V482.67H540.50ZM1200.55,467.31H1292.65V482.67H1200.55ZM555.85,451.96H586.55V467.31H555.85ZM1185.20,451.96H1261.95V467.31H1185.20ZM586.55,436.60H617.25V451.96H586.55ZM1123.80,436.60H1246.60V451.96H1123.80ZM1093.10,421.24H1231.25V436.60H1093.10ZM632.60,405.89H678.65V421.24H632.60ZM1093.10,405.89H1200.55V421.24H1093.10ZM678.65,390.53H724.70V405.89H678.65ZM1093.10,390.53H1185.20V405.89H1093.10ZM724.70,375.17H740.05V390.53H724.70ZM1093.10,375.17H1169.85V390.53H1093.10ZM740.05,359.82H755.40V375.17H740.05ZM1093.10,359.82H1154.50V375.17H1093.10ZM755.40,344.46H786.10V359.82H755.40ZM1093.10,344.46H1139.15V359.82H1093.10ZM786.10,329.10H801.45V344.46H786.10ZM1108.45,329.10H1123.80V344.46H1108.45ZM801.45,313.74H816.80V329.10H801.45ZM1093.10,313.74H1123.80V329.10H1093.10ZM816.80,298.39H832.15V313.74H816.80ZM1062.40,298.39H1123.80V313.74H1062.40ZM847.50,283.03H862.85V298.39H847.50ZM1047.05,283.03H1093.10V298.39H1047.05ZM862.85,267.67H893.55V283.03H862.85ZM1047.05,267.67H1093.10V283.03H1047.05ZM893.55,252.32H908.90V267.67H893.55ZM1016.35,252.32H1108.45V267.67H1016.35ZM908.90,236.96H939.60V252.32H908.90ZM1001.00,236.96H1108.45V252.32H1001.00ZM924.25,221.60H970.30V236.96H924.25ZM1001.00,221.60H1108.45V236.96H1001.00ZM954.95,206.25H1001.00V221.60H954.95ZM1016.35,206.25H1062.40V221.60H1016.35ZM985.65,190.89H1047.05V206.25H985.65Z" fill="#b3e0a2" stroke="#b3e0a2" stroke-width="0.6" shape-rendering="crispEdges"/>
<path d="M156.75,697.67H172.10V713.03H156.75ZM141.40,682.31H172.10V697.67H141.40ZM187.45,682.31H202.80V697.67H187.45ZM110.70,666.96H126.05V682.31H110.70ZM141.40,666.96H172.10V682.31H141.40ZM187.45,666.96H202.80V682.31H187.45ZM126.05,651.60H172.10V666.96H126.05ZM95.35,620.88H110.70V636.24H95.35ZM233.50,590.17H248.85V605.53H233.50ZM1615.00,590.17H1661.05V605.53H1615.00ZM264.20,574.81H310.25V590.17H264.20ZM1461.50,574.81H1522.90V590.17H1461.50ZM1538.25,574.81H1615.00V590.17H1538.25ZM310.25,559.46H387.00V574.81H310.25ZM1338.70,559.46H1415.45V574.81H1338.70ZM1430.80,559.46H1599.65V574.81H1430.80ZM371.65,544.10H433.05V559.46H371.65ZM1231.25,544.10H1369.40V559.46H1231.25ZM1384.75,544.10H1430.80V559.46H1384.75ZM1492.20,544.10H1599.65V559.46H1492.20ZM433.05,528.74H479.10V544.10H433.05ZM1200.55,528.74H1369.40V544.10H1200.55ZM479.10,513.38H525.15V528.74H479.10ZM1169.85,513.38H1277.30V528.74H1169.85ZM1292.65,513.38H1338.70V528.74H1292.65ZM509.80,498.03H555.85V513.38H509.80ZM1154.50,498.03H1246.60V513.38H1154.50ZM540.50,482.67H586.55V498.03H540.50ZM1139.15,482.67H1215.90V498.03H1139.15ZM571.20,467.31H601.90V482.67H571.20ZM1123.80,467.31H1200.55V482.67H1123.80ZM586.55,451.96H617.25V467.31H586.55ZM1093.10,451.96H1185.20V467.31H1093.10ZM617.25,436.60H647.95V451.96H617.25ZM1077.75,436.60H1123.80V451.96H1077.75ZM632.60,421.24H678.65V436.60H632.60ZM1062.40,421.24H1093.10V436.60H1062.40ZM678.65,405.89H724.70V421.24H678.65ZM1062.40,405.89H1093.10V421.24H1062.40ZM724.70,390.53H740.05V405.89H724.70ZM1062.40,390.53H1093.10V405.89H1062.40ZM740.05,375.17H755.40V390.53H740.05ZM1077.75,375.17H1093.10V390.53H1077.75ZM755.40,359.82H786.10V375.17H755.40ZM1077.75,359.82H1093.10V375.17H1077.75ZM786.10,344.46H801.45V359.82H786.10ZM1047.05,344.46H1093.10V359.82H1047.05ZM801.45,329.10H816.80V344.46H801.45ZM985.65,329.10H1108.45V344.46H985.65ZM816.80,313.74H832.15V329.10H816.80ZM985.65,313.74H1093.10V329.10H985.65ZM832.15,298.39H862.85V313.74H832.15ZM954.95,298.39H970.30V313.74H954.95ZM985.65,298.39H1062.40V313.74H985.65ZM862.85,283.03H878.20V298.39H862.85ZM954.95,283.03H1047.05V298.39H954.95ZM893.55,267.67H908.90V283.03H893.55ZM970.30,267.67H1047.05V283.03H970.30ZM908.90,252.32H924.25V267.67H908.90ZM970.30,252.32H1016.35V267.67H970.30ZM939.60,236.96H954.95V252.32H939.60ZM985.65,236.96H1001.00V252.32H985.65ZM970.30,221.60H1001.00V236.96H970.30ZM1001.00,206.25H1016.35V221.60H1001.00Z" fill="#d1ed9c" stroke="#d1ed9c" stroke-width="0.6" shape-rendering="crispEdges"/>
<path d="M126.05,666.96H141.40V682.31H126.05ZM172.10,666.96H187.45V682.31H172.10ZM172.10,651.60H187.45V666.96H172.10ZM172.10,636.24H187.45V651.60H172.10ZM187.45,590.17H202.80V605.53H187.45ZM202.80,574.81H218.15V590.17H202.80ZM218.15,559.46H248.85V574.81H218.15ZM233.50,544.10H264.20V559.46H233.50ZM264.20,528.74H310.25V544.10H264.20ZM279.55,513.38H340.95V528.74H279.55ZM1630.35,513.38H1661.05V528.74H1630.35ZM325.60,498.03H417.70V513.38H325.60ZM1568.95,498.03H1661.05V513.38H1568.95ZM402.35,482.67H479.10V498.03H402.35ZM1461.50,482.67H1522.90V498.03H1461.50ZM1538.25,482.67H1630.35V498.03H1538.25ZM463.75,467.31H509.80V482.67H463.75ZM1354.05,467.31H1584.30V482.67H1354.05ZM509.80,451.96H540.50V467.31H509.80ZM1323.35,451.96H1553.60V467.31H1323.35ZM540.50,436.60H555.85V451.96H540.50ZM1308.00,436.60H1400.10V451.96H1308.00ZM1492.20,436.60H1522.90V451.96H1492.20ZM586.55,421.24H617.25V436.60H586.55ZM1292.65,421.24H1369.40V436.60H1292.65ZM617.25,405.89H632.60V421.24H617.25ZM1277.30,405.89H1338.70V421.24H1277.30ZM632.60,390.53H663.30V405.89H632.60ZM1277.30,390.53H1338.70V405.89H1277.30ZM663.30,375.17H694.00V390.53H663.30ZM1277.30,375.17H1323.35V390.53H1277.30ZM694.00,359.82H724.70V375.17H694.00ZM1215.90,359.82H1308.00V375.17H1215.90ZM724.70,344.46H740.05V359.82H724.70ZM1185.20,344.46H1292.65V359.82H1185.20ZM1200.55,329.10H1277.30V344.46H1200.55ZM770.75,313.74H786.10V329.10H770.75ZM1215.90,313.74H1261.95V329.10H1215.90ZM1200.55,298.39H1246.60V313.74H1200.55ZM816.80,283.03H832.15V298.39H816.80ZM1185.20,283.03H1246.60V298.39H1185.20ZM847.50,267.67H862.85V283.03H847.50ZM1185.20,267.67H1246.60V283.03H1185.20ZM862.85,252.32H878.20V267.67H862.85ZM1169.85,252.32H1246.60V267.67H1169.85ZM1154.50,236.96H1231.25V252.32H1154.50ZM908.90,221.60H924.25V236.96H908.90ZM1169.85,221.60H1215.90V236.96H1169.85ZM924.25,206.25H939.60V221.60H924.25ZM1169.85,206.25H1200.55V221.60H1169.85ZM954.95,190.89H970.30V206.25H954.95ZM1154.50,190.89H1200.55V206.25H1154.50ZM985.65,175.53H1001.00V190.89H985.65ZM1077.75,175.53H1093.10V190.89H1077.75ZM1154.50,175.53H1200.55V190.89H1154.50ZM1001.00,160.17H1031.70V175.53H1001.00ZM1093.10,160.17H1185.20V175.53H1093.10ZM1031.70,144.82H1062.40V160.17H1031.70ZM1093.10,144.82H1185.20V160.17H1093.10ZM1047.05,129.46H1169.85V144.82H1047.05ZM1047.05,114.10H1169.85V129.46H1047.05Z" fill="#6bc4a5" stroke="#6bc4a5" stroke-width="0.6" shape-rendering="crispEdges"/>
<path d="M110.70,636.24H141.40V651.60H110.70ZM156.75,636.24H172.10V651.60H156.75ZM156.75,620.88H172.10V636.24H156.75ZM156.75,605.53H172.10V620.88H156.75ZM172.10,590.17H187.45V605.53H172.10ZM172.10,574.81H187.45V590.17H172.10ZM187.45,559.46H202.80V574.81H187.45ZM202.80,544.10H218.15V559.46H202.80ZM218.15,528.74H233.50V544.10H218.15ZM218.15,513.38H264.20V528.74H218.15ZM233.50,498.03H279.55V513.38H233.50ZM264.20,482.67H325.60V498.03H264.20ZM310.25,467.31H356.30V482.67H310.25ZM1630.35,467.31H1661.05V482.67H1630.35ZM340.95,451.96H433.05V467.31H340.95ZM1630.35,451.96H1661.05V467.31H1630.35ZM433.05,436.60H494.45V451.96H433.05ZM1584.30,436.60H1661.05V451.96H1584.30ZM494.45,421.24H555.85V436.60H494.45ZM1599.65,421.24H1661.05V436.60H1599.65ZM555.85,405.89H601.90V421.24H555.85ZM1553.60,405.89H1661.05V421.24H1553.60ZM601.90,390.53H632.60V405.89H601.90ZM1415.45,390.53H1430.80V405.89H1415.45ZM1446.15,390.53H1476.85V405.89H1446.15ZM1492.20,390.53H1615.00V405.89H1492.20ZM1384.75,375.17H1538.25V390.53H1384.75ZM1599.65,375.17H1615.00V390.53H1599.65ZM663.30,359.82H678.65V375.17H663.30ZM1354.05,359.82H1507.55V375.17H1354.05ZM1338.70,344.46H1446.15V359.82H1338.70ZM709.35,329.10H724.70V344.46H709.35ZM1323.35,329.10H1400.10V344.46H1323.35ZM740.05,313.74H755.40V329.10H740.05ZM1308.00,313.74H1384.75V329.10H1308.00ZM755.40,298.39H770.75V313.74H755.40ZM1308.00,298.39H1354.05V313.74H1308.00ZM786.10,283.03H801.45V298.39H786.10ZM1292.65,283.03H1323.35V298.39H1292.65ZM1292.65,267.67H1308.00V283.03H1292.65ZM1277.30,252.32H1308.00V267.67H1277.30ZM1261.95,236.96H1308.00V252.32H1261.95ZM893.55,221.60H908.90V236.96H893.55ZM1261.95,221.60H1292.65V236.96H1261.95ZM908.90,206.25H924.25V221.60H908.90ZM1246.60,206.25H1277.30V221.60H1246.60ZM924.25,190.89H939.60V206.25H924.25ZM1246.60,190.89H1277.30V206.25H1246.60ZM939.60,175.53H954.95V190.89H939.60ZM1246.60,175.53H1277.30V190.89H1246.60ZM970.30,160.17H985.65V175.53H970.30ZM1231.25,160.17H1261.95V175.53H1231.25ZM985.65,144.82H1001.00V160.17H985.65ZM1215.90,144.82H1246.60V160.17H1215.90ZM1001.00,129.46H1016.35V144.82H1001.00ZM1215.90,129.46H1246.60V144.82H1215.90ZM1001.00,114.10H1016.35V129.46H1001.00ZM1215.90,114.10H1246.60V129.46H1215.90Z" fill="#3389bd" stroke="#3389bd" stroke-width="0.6" shape-rendering="crispEdges"/>
<path d="M141.40,636.24H156.75V651.60H141.40ZM110.70,620.88H126.05V636.24H110.70ZM141.40,620.88H156.75V636.24H141.40ZM141.40,605.53H156.75V620.88H141.40ZM156.75,590.17H172.10V605.53H156.75ZM156.75,574.81H172.10V590.17H156.75ZM172.10,559.46H187.45V574.81H172.10ZM187.45,544.10H202.80V559.46H187.45ZM202.80,528.74H218.15V544.10H202.80ZM202.80,513.38H218.15V528.74H202.80ZM218.15,498.03H233.50V513.38H218.15ZM233.50,482.67H264.20V498.03H233.50ZM248.85,467.31H310.25V482.67H248.85ZM294.90,451.96H340.95V467.31H294.90ZM340.95,436.60H433.05V451.96H340.95ZM448.40,421.24H494.45V436.60H448.40ZM509.80,405.89H555.85V421.24H509.80ZM555.85,390.53H601.90V405.89H555.85ZM1615.00,390.53H1661.05V405.89H1615.00ZM601.90,375.17H647.95V390.53H601.90ZM1538.25,375.17H1599.65V390.53H1538.25ZM1615.00,375.17H1661.05V390.53H1615.00ZM647.95,359.82H663.30V375.17H647.95ZM1507.55,359.82H1630.35V375.17H1507.55ZM663.30,344.46H694.00V359.82H663.30ZM1446.15,344.46H1615.00V359.82H1446.15ZM694.00,329.10H709.35V344.46H694.00ZM1400.10,329.10H1507.55V344.46H1400.10ZM709.35,313.74H740.05V329.10H709.35ZM1384.75,313.74H1492.20V329.10H1384.75ZM740.05,298.39H755.40V313.74H740.05ZM1354.05,298.39H1461.50V313.74H1354.05ZM1323.35,283.03H1415.45V298.39H1323.35ZM816.80,267.67H832.15V283.03H816.80ZM1308.00,267.67H1384.75V283.03H1308.00ZM847.50,252.32H862.85V267.67H847.50ZM1308.00,252.32H1369.40V267.67H1308.00ZM862.85,236.96H878.20V252.32H862.85ZM1308.00,236.96H1354.05V252.32H1308.00ZM1292.65,221.60H1338.70V236.96H1292.65ZM1277.30,206.25H1323.35V221.60H1277.30ZM1277.30,190.89H1308.00V206.25H1277.30ZM1277.30,175.53H1292.65V190.89H1277.30ZM954.95,160.17H970.30V175.53H954.95ZM1261.95,160.17H1292.65V175.53H1261.95ZM970.30,144.82H985.65V160.17H970.30ZM1246.60,144.82H1277.30V160.17H1246.60ZM985.65,129.46H1001.00V144.82H985.65ZM1246.60,129.46H1261.95V144.82H1246.60ZM985.65,114.10H1001.00V129.46H985.65ZM1246.60,114.10H1261.95V129.46H1246.60Z" fill="#486cb0" stroke="#486cb0" stroke-width="0.6" shape-rendering="crispEdges"/>
<path d="M172.10,620.88H187.45V636.24H172.10ZM172.10,605.53H187.45V620.88H172.10ZM187.45,574.81H202.80V590.17H187.45ZM202.80,559.46H218.15V574.81H202.80ZM218.15,544.10H233.50V559.46H218.15ZM233.50,528.74H264.20V544.10H233.50ZM264.20,513.38H279.55V528.74H264.20ZM279.55,498.03H325.60V513.38H279.55ZM325.60,482.67H402.35V498.03H325.60ZM1630.35,482.67H1661.05V498.03H1630.35ZM356.30,467.31H463.75V482.67H356.30ZM1584.30,467.31H1630.35V482.67H1584.30ZM433.05,451.96H509.80V467.31H433.05ZM1553.60,451.96H1630.35V467.31H1553.60ZM494.45,436.60H540.50V451.96H494.45ZM1400.10,436.60H1492.20V451.96H1400.10ZM1522.90,436.60H1584.30V451.96H1522.90ZM555.85,421.24H586.55V436.60H555.85ZM1369.40,421.24H1599.65V436.60H1369.40ZM601.90,405.89H617.25V421.24H601.90ZM1338.70,405.89H1553.60V421.24H1338.70ZM1338.70,390.53H1415.45V405.89H1338.70ZM1430.80,390.53H1446.15V405.89H1430.80ZM1476.85,390.53H1492.20V405.89H1476.85ZM647.95,375.17H663.30V390.53H647.95ZM1323.35,375.17H1384.75V390.53H1323.35ZM678.65,359.82H694.00V375.17H678.65ZM1308.00,359.82H1354.05V375.17H1308.00ZM694.00,344.46H724.70V359.82H694.00ZM1292.65,344.46H1338.70V359.82H1292.65ZM724.70,329.10H755.40V344.46H724.70ZM1277.30,329.10H1323.35V344.46H1277.30ZM755.40,313.74H770.75V329.10H755.40ZM1261.95,313.74H1308.00V329.10H1261.95ZM770.75,298.39H801.45V313.74H770.75ZM1246.60,298.39H1308.00V313.74H1246.60ZM801.45,283.03H816.80V298.39H801.45ZM1246.60,283.03H1292.65V298.39H1246.60ZM832.15,267.67H847.50V283.03H832.15ZM1246.60,267.67H1292.65V283.03H1246.60ZM1246.60,252.32H1277.30V267.67H1246.60ZM878.20,236.96H893.55V252.32H878.20ZM1231.25,236.96H1261.95V252.32H1231.25ZM1215.90,221.60H1261.95V236.96H1215.90ZM1200.55,206.25H1246.60V221.60H1200.55ZM939.60,190.89H954.95V206.25H939.60ZM1200.55,190.89H1246.60V206.25H1200.55ZM954.95,175.53H985.65V190.89H954.95ZM1200.55,175.53H1246.60V190.89H1200.55ZM985.65,160.17H1001.00V175.53H985.65ZM1185.20,160.17H1231.25V175.53H1185.20ZM1001.00,144.82H1031.70V160.17H1001.00ZM1185.20,144.82H1215.90V160.17H1185.20ZM1016.35,129.46H1047.05V144.82H1016.35ZM1169.85,129.46H1215.90V144.82H1169.85ZM1016.35,114.10H1047.05V129.46H1016.35ZM1169.85,114.10H1215.90V129.46H1169.85Z" fill="#50a9af" stroke="#50a9af" stroke-width="0.6" shape-rendering="crispEdges"/>
<path d="M410.3,137 V1366 M717.4,137 V1366 M1024.3,137 V1366 M1331.3,137 V1366 M102,1212.1 H1638 M102,1058.6 H1638 M102,905.0 H1638 M102,751.4 H1638 M102,597.9 H1638 M102,444.3 H1638 M102,290.7 H1638" fill="none" stroke="#b8b8b8" stroke-opacity="0.75" stroke-width="1.1" stroke-dasharray="4.2,2.1"/>
<path d="M80.0,626.0 L103.3,624.2 L110.0,622.5 L121.7,619.2 L133.3,615.8 L141.7,608.3 L144.2,600.0 L143.7,590.0 L146.7,576.7 L156.7,560.0 L171.7,541.7 L186.7,526.7 L200.0,510.0 L216.7,490.0 L233.3,470.0 L250.0,456.7 L275.0,447.5 L290.0,448.0 L350.0,431.5 L380.0,428.0 L410.0,423.1 L440.0,420.0 L470.0,415.6 L530.0,401.7 L560.0,389.9 L620.0,367.4 L640.0,355.2 L717.5,310.8 L760.0,297.0 L830.0,267.0 L850.8,250.3 L871.7,235.0 L892.5,218.3 L905.0,208.6 L927.2,185.0 L943.9,172.5 L960.6,158.6 L977.2,142.0 L984.0,135.0 L990.0,125.0 M1278.0,125.0 L1281.9,135.0 L1294.4,155.8 L1312.5,173.9 L1330.6,190.6 L1347.2,207.2 L1361.1,219.7 L1375.0,226.7 L1391.4,231.2 L1406.7,248.6 L1428.9,259.7 L1453.9,272.2 L1478.9,279.9 L1508.0,283.3 L1533.0,297.2 L1553.9,309.7 L1573.3,309.7 L1606.7,314.6 L1621.9,325.0 L1637.2,327.8 L1660.0,330.0 M80.0,632.0 L104.0,631.0 L110.4,630.0 L113.9,627.9 L119.4,625.8 L125.0,627.9 L130.2,631.0 L134.7,631.7 L139.6,627.9 L141.0,622.0 L142.7,616.1 L145.5,611.2 L149.3,607.1 L153.5,602.6 L157.6,598.4 L159.7,592.5 L161.8,587.0 L163.9,580.0 L175.0,566.7 L188.3,546.7 L203.3,530.0 L220.0,510.0 L238.3,490.0 L258.3,473.3 L283.3,461.7 L290.0,462.0 L350.0,442.0 L380.0,438.5 L410.0,435.2 L440.0,431.3 L470.0,423.4 L530.0,411.3 L560.0,395.5 L620.0,378.6 L640.0,368.8 L717.5,320.3 L760.0,301.0 L830.0,270.0 L853.6,255.8 L893.9,223.9 L927.2,194.7 L941.1,179.4 L955.0,168.3 L974.4,151.7 L994.0,135.0 L1002.0,125.0 M1260.0,125.0 L1264.6,135.0 L1275.0,155.8 L1294.4,176.7 L1311.1,196.1 L1327.8,212.8 L1336.1,225.3 L1351.4,244.7 L1373.6,260.7 L1399.7,286.1 L1423.3,298.6 L1437.2,304.2 L1453.9,302.1 L1470.6,306.9 L1490.0,318.0 L1498.3,334.7 L1517.8,343.0 L1538.6,348.6 L1562.2,352.1 L1591.4,350.0 L1606.7,341.0 L1615.0,348.6 L1620.6,359.7 L1626.1,368.0 L1637.2,368.8 L1660.0,369.0 M80.0,636.0 L104.0,633.0 L112.0,630.0 L120.0,633.0 L127.4,639.0 L131.6,642.8 L137.5,644.2 L143.0,644.9 L148.6,645.3 L154.9,643.5 L158.0,639.0 L161.1,633.8 L164.2,628.6 L163.9,622.7 L163.9,616.8 L164.6,611.2 L167.4,606.0 L170.1,600.8 L172.2,594.9 L174.3,589.0 L176.4,583.5 L185.0,570.0 L198.0,552.0 L213.0,536.0 L230.0,517.0 L248.0,498.0 L268.0,485.0 L290.0,483.0 L350.0,456.0 L380.0,450.3 L410.0,448.6 L440.0,443.4 L470.0,435.6 L530.0,423.4 L560.0,415.1 L620.0,394.3 L640.0,385.4 L717.5,333.0 L760.0,306.0 L830.0,274.0 L857.8,260.0 L896.7,229.4 L930.0,200.3 L945.3,183.6 L963.3,171.1 L982.8,154.4 L1007.0,135.0 L1016.0,125.0 M1244.0,125.0 L1247.2,135.0 L1252.8,153.0 L1265.3,167.0 L1273.6,180.8 L1279.2,204.4 L1284.7,221.1 L1297.2,235.0 L1306.9,251.7 L1312.5,271.1 L1320.8,285.0 L1330.6,296.1 L1348.6,303.8 L1363.9,307.2 L1375.0,315.6 L1395.6,333.3 L1417.8,343.0 L1435.8,342.4 L1445.6,352.8 L1466.4,366.0 L1476.1,361.1 L1483.0,351.4 L1492.8,358.3 L1503.9,366.7 L1524.7,376.4 L1542.8,383.3 L1573.3,389.6 L1592.8,387.5 L1607.4,380.6 L1609.4,393.9 L1615.0,402.2 L1628.9,406.4 L1637.2,407.8 L1660.0,408.0 M80.0,638.0 L104.0,634.0 L110.0,636.0 L116.0,646.0 L124.0,651.0 L150.0,652.0 L166.0,651.0 L170.0,645.0 L172.0,630.0 L176.0,610.0 L186.0,590.0 L205.0,565.0 L230.0,540.7 L260.0,520.0 L290.0,503.0 L350.0,481.0 L380.0,468.0 L410.0,466.8 L440.0,459.0 L470.0,452.9 L530.0,435.6 L560.0,428.1 L620.0,407.3 L640.0,391.7 L717.5,341.0 L760.0,316.0 L830.0,279.0 L859.2,263.5 L899.4,232.2 L934.2,203.0 L968.9,176.7 L989.7,162.8 L1010.6,146.1 L1025.8,135.0 L1036.0,125.0 M1212.0,125.0 L1214.6,135.0 L1220.8,155.8 L1229.2,169.7 L1245.8,179.4 L1251.4,190.6 L1247.2,208.6 L1252.8,218.3 L1261.1,228.0 L1263.9,244.7 L1275.0,255.8 L1280.6,266.9 L1294.4,290.6 L1305.6,316.9 L1322.2,333.0 L1336.1,346.4 L1348.6,360.3 L1363.9,370.0 L1385.8,386.1 L1403.9,393.9 L1420.6,400.1 L1430.3,398.0 L1438.6,394.6 L1451.1,398.0 L1466.4,404.3 L1476.1,400.8 L1483.0,387.0 L1485.8,385.6 L1488.6,393.9 L1494.2,403.6 L1502.5,409.9 L1517.8,411.2 L1531.7,409.9 L1548.3,413.3 L1559.4,420.3 L1576.1,423.0 L1594.2,425.8 L1594.2,432.8 L1587.2,439.7 L1581.7,444.6 L1590.0,448.0 L1601.1,455.0 L1609.4,459.9 L1623.3,459.9 L1628.9,468.9 L1637.2,477.2 L1660.0,480.0 M80.0,639.0 L104.0,634.6 L110.5,637.0 L116.5,647.2 L124.0,652.2 L150.0,653.2 L165.0,653.2 L168.5,659.0 L169.3,666.0 L173.0,676.0 L178.5,667.0 L178.0,660.0 L181.0,630.0 L187.0,610.0 L198.0,590.0 L230.0,558.0 L260.0,537.0 L290.0,519.5 L350.0,499.5 L380.0,495.0 L410.0,489.9 L440.0,485.0 L470.0,474.6 L530.0,452.0 L560.0,436.8 L620.0,419.4 L640.0,397.9 L717.5,355.0 L760.0,331.0 L830.0,285.0 L862.0,267.0 L902.2,236.4 L927.2,215.6 L945.3,201.7 L982.8,185.0 L1003.6,171.1 L1024.4,158.6 L1038.3,146.1 L1055.0,135.0 L1064.0,125.0 M1172.0,125.0 L1175.0,135.0 L1183.3,155.8 L1194.4,175.3 L1197.2,190.6 L1194.4,210.0 L1202.8,226.7 L1218.0,233.6 L1233.3,240.6 L1241.7,253.0 L1244.4,273.9 L1254.2,307.2 L1270.8,335.0 L1277.8,338.0 L1294.4,354.7 L1311.1,370.0 L1325.0,382.5 L1336.1,389.4 L1345.1,396.4 L1344.4,403.3 L1338.9,408.9 L1339.6,415.8 L1350.0,421.4 L1363.9,429.7 L1373.3,436.9 L1390.0,441.1 L1406.7,445.3 L1427.5,448.0 L1442.8,450.8 L1455.3,450.8 L1469.2,446.7 L1490.0,443.9 L1510.8,443.2 L1528.9,445.3 L1538.6,453.6 L1548.3,461.9 L1559.4,466.8 L1569.2,463.3 L1574.7,459.2 L1578.9,466.1 L1580.3,475.8 L1590.0,480.0 L1606.7,487.6 L1624.7,487.6 L1631.7,491.1 L1637.2,500.8 L1660.0,503.0 M80.0,640.0 L104.0,635.2 L111.0,638.0 L117.0,648.4 L124.0,653.4 L150.0,654.4 L165.0,654.4 L168.5,660.0 L169.6,682.0 L175.0,692.0 L182.0,683.0 L184.0,660.0 L188.0,630.0 L197.0,610.0 L212.0,590.0 L230.0,574.5 L260.0,557.0 L290.0,543.0 L350.0,519.5 L380.0,513.7 L410.0,508.5 L440.0,503.3 L470.0,492.8 L530.0,468.5 L560.0,444.6 L620.0,427.3 L640.0,406.3 L717.5,372.0 L760.0,338.0 L830.0,291.0 L866.1,271.1 L905.0,242.0 L941.1,212.8 L968.9,198.9 L1003.6,182.2 L1024.4,169.7 L1052.2,154.4 L1084.2,148.2 L1100.8,150.3 L1102.2,157.2 L1098.0,168.3 L1100.0,175.3 L1113.9,173.2 L1131.9,173.2 L1148.6,179.4 L1156.9,190.6 L1163.9,204.4 L1166.7,221.1 L1165.3,235.0 L1159.7,244.7 L1166.7,253.0 L1177.8,258.6 L1180.6,272.5 L1188.9,287.8 L1197.2,304.4 L1209.7,319.7 L1208.3,328.3 L1202.8,338.0 L1194.4,345.0 L1188.9,351.9 L1191.7,358.9 L1202.8,363.8 L1219.4,367.9 L1233.3,368.6 L1255.6,367.9 L1263.9,374.2 L1275.0,379.7 L1279.9,385.3 L1278.5,397.8 L1279.2,410.3 L1284.7,420.0 L1293.0,432.5 L1300.0,442.2 L1311.1,450.6 L1322.2,458.9 L1330.6,465.8 L1344.4,472.8 L1361.1,476.2 L1375.0,478.3 L1383.0,480.7 L1401.1,482.8 L1424.7,482.8 L1442.8,484.9 L1459.4,491.1 L1470.6,495.3 L1483.0,496.0 L1498.3,494.6 L1517.8,493.2 L1528.9,489.0 L1540.0,493.2 L1559.4,502.2 L1573.3,507.8 L1590.0,511.9 L1606.7,518.2 L1623.3,520.3 L1637.2,527.2 L1660.0,530.0 M1093.0,182.0 L1091.9,186.2 L1088.8,189.4 L1084.5,190.5 L1080.2,189.4 L1077.1,186.2 L1076.0,182.0 L1077.1,177.8 L1080.2,174.6 L1084.5,173.5 L1088.8,174.6 L1091.9,177.8 L1093.0,182.0 M80.0,641.0 L104.0,635.8 L111.5,639.0 L117.5,649.6 L124.0,654.6 L150.0,655.6 L165.0,655.6 L168.5,661.0 L169.9,696.0 L177.0,706.0 L185.5,697.0 L190.0,660.0 L194.0,630.0 L207.0,610.0 L222.0,594.0 L230.0,587.6 L260.0,573.0 L290.0,562.0 L350.0,538.5 L380.0,531.0 L410.0,525.0 L440.0,518.9 L470.0,509.3 L530.0,482.4 L560.0,452.4 L620.0,436.8 L640.0,413.5 L717.5,387.0 L760.0,353.0 L830.0,298.0 L871.7,275.3 L907.8,246.1 L943.9,218.3 L968.9,205.8 L996.7,194.7 L1024.4,185.7 L1035.6,182.2 L1039.7,190.6 L1042.5,200.3 L1052.2,210.0 L1063.3,219.7 L1073.0,223.9 L1084.2,222.5 L1093.9,216.9 L1100.8,214.2 L1105.0,218.3 L1106.9,230.8 L1115.3,241.9 L1106.9,253.0 L1100.0,262.8 L1094.0,270.0 L1092.5,288.0 L1100.0,292.0 L1113.9,297.5 L1127.8,305.8 L1129.9,321.1 L1131.2,338.0 L1138.9,357.5 L1150.0,370.0 L1162.5,376.9 L1169.4,388.0 L1180.6,399.2 L1194.4,410.3 L1206.9,421.4 L1225.0,428.3 L1236.1,436.7 L1247.2,446.4 L1256.9,453.3 L1266.7,461.7 L1280.6,467.2 L1293.0,472.8 L1304.2,481.1 L1316.7,488.0 L1330.6,493.6 L1350.0,501.9 L1363.9,507.5 L1378.9,515.4 L1392.8,523.0 L1406.7,527.9 L1427.5,528.6 L1453.9,528.6 L1473.3,526.5 L1490.0,527.2 L1503.9,525.8 L1517.8,523.0 L1531.7,518.9 L1546.9,514.0 L1559.4,516.1 L1573.3,521.7 L1587.2,530.7 L1601.1,539.7 L1619.2,546.7 L1637.2,555.0 L1660.0,558.0 M80.0,642.0 L104.0,636.4 L112.0,640.0 L118.0,650.8 L124.0,655.8 L150.0,656.8 L165.0,656.8 L168.5,662.0 L170.2,706.0 L179.0,716.0 L189.0,707.0 L196.0,660.0 L200.0,630.0 L215.0,612.0 L230.0,596.2 L260.0,585.0 L290.0,577.0 L350.0,556.0 L380.0,551.5 L410.0,545.0 L440.0,533.7 L470.0,524.1 L530.0,499.8 L560.0,479.3 L620.0,444.6 L640.0,425.0 L717.5,407.0 L760.0,370.0 L830.0,310.0 L871.7,287.8 L899.4,272.5 L941.1,244.7 L968.9,226.7 L996.7,214.2 L1009.2,210.7 L1013.3,215.6 L1009.2,225.3 L1000.8,243.3 L1005.0,250.3 L1014.7,257.2 L1024.4,265.6 L1038.3,268.3 L1043.9,273.9 L1043.9,285.0 L1036.9,304.4 L1041.1,307.2 L1049.4,301.7 L1059.2,300.3 L1073.0,308.6 L1091.1,322.0 L1099.4,328.3 L1103.6,338.0 L1100.8,354.7 L1099.4,375.6 L1096.7,392.2 L1093.9,399.2 L1098.0,417.2 L1099.4,429.7 L1105.0,432.5 L1111.1,438.0 L1125.0,447.8 L1134.7,451.9 L1147.2,453.3 L1158.3,447.8 L1165.3,447.1 L1172.2,450.6 L1197.2,465.8 L1212.5,481.1 L1218.0,490.8 L1233.3,499.2 L1244.4,505.0 L1250.0,510.6 L1263.9,517.5 L1280.6,522.4 L1291.7,521.0 L1305.6,516.8 L1316.7,514.7 L1329.2,518.2 L1341.7,524.4 L1358.3,531.4 L1369.4,536.2 L1372.9,545.3 L1377.5,553.6 L1392.8,549.4 L1410.8,549.2 L1424.7,550.1 L1437.2,552.9 L1453.9,552.9 L1470.6,557.8 L1480.3,552.9 L1490.0,552.2 L1503.9,551.5 L1517.8,549.4 L1531.7,543.2 L1548.3,541.8 L1562.2,536.9 L1576.1,541.8 L1590.0,548.8 L1598.3,557.8 L1603.9,571.1 L1612.2,579.4 L1621.9,582.9 L1637.2,583.6 L1660.0,584.0 M84.7,680.7 L107.5,692.2 L125.0,701.0 L145.0,708.6 L165.1,714.4 L178.2,718.3 L187.0,709.6 L193.6,701.0 L201.3,681.4 L205.7,668.1 L204.9,659.3 L203.0,640.0 L211.0,626.0 L230.0,609.3 L258.0,595.0 L290.0,587.0 L350.0,571.5 L380.0,569.3 L410.0,562.3 L440.0,551.9 L470.0,539.7 L530.0,518.9 L560.0,508.9 L620.0,462.8 L640.0,445.8 L717.5,418.5 L760.0,384.0 L830.0,322.5 L850.8,311.4 L885.6,289.2 L913.3,269.7 L941.1,250.3 L957.8,243.3 L978.6,242.0 L980.0,248.9 L975.8,260.0 L968.9,273.9 L963.3,287.8 L959.2,298.9 L960.6,308.6 L967.5,307.2 L977.2,300.3 L987.0,303.0 L989.7,308.6 L984.2,322.5 L982.8,335.3 L987.0,343.6 L993.9,349.9 L1005.0,349.2 L1023.0,345.0 L1034.2,349.2 L1046.7,356.1 L1057.8,359.6 L1071.7,361.0 L1075.8,368.6 L1074.4,382.5 L1068.9,392.2 L1064.7,399.2 L1066.1,411.7 L1063.3,420.0 L1060.6,428.3 L1066.1,435.3 L1074.4,445.0 L1085.6,453.3 L1093.9,460.3 L1105.0,465.8 L1113.9,472.8 L1127.8,481.8 L1141.7,490.8 L1150.0,499.2 L1155.6,505.0 L1161.1,510.6 L1175.0,523.1 L1188.9,529.3 L1202.8,535.6 L1218.0,543.2 L1230.6,550.8 L1238.9,554.3 L1252.8,552.9 L1266.7,552.9 L1279.2,556.4 L1286.1,558.5 L1300.0,558.5 L1315.3,561.9 L1329.2,564.7 L1347.2,568.2 L1363.9,568.9 L1392.8,571.1 L1406.7,568.3 L1420.6,564.2 L1427.5,566.2 L1437.2,573.9 L1453.9,580.1 L1469.2,583.6 L1490.0,585.0 L1503.9,585.0 L1517.8,582.9 L1528.9,580.1 L1535.8,582.2 L1545.6,585.7 L1566.4,585.7 L1581.7,588.5 L1601.1,594.0 L1615.0,598.2 L1637.2,602.4 L1660.0,603.0 M83.5,683.0 L106.3,694.5 L123.9,703.4 L144.2,711.1 L164.4,716.9 L178.8,720.8 L188.8,711.4 L195.9,702.2 L203.8,682.3 L208.3,668.5 L207.5,659.1 L207.5,643.0 L215.0,632.0 L232.0,620.0 L260.0,605.0 L290.0,596.0 L350.0,587.0 L380.0,582.7 L410.0,577.4 L440.0,564.9 L470.0,549.3 L530.0,535.4 L560.0,523.6 L620.0,492.2 L631.1,483.9 L638.0,475.6 L640.8,470.0 L660.0,456.0 L680.0,442.9 L685.6,439.4 L691.1,438.4 L697.0,437.0 L702.9,435.3 L707.8,432.5 L712.6,429.0 L717.5,425.6 L722.7,422.8 L727.9,419.7 L733.5,417.2 L739.0,415.5 L744.6,413.8 L750.1,411.7 L755.7,409.2 L761.2,406.5 L765.8,403.0 L769.9,398.5 L774.8,395.7 L779.3,392.2 L800.0,376.0 L815.0,364.0 L830.0,353.3 L839.7,343.6 L857.8,332.5 L875.8,325.6 L899.4,314.2 L918.9,298.9 L927.2,290.6 L934.2,289.9 L935.6,301.7 L937.0,315.6 L940.4,332.5 L936.9,342.2 L931.4,350.6 L935.6,354.7 L946.7,356.8 L950.8,367.2 L959.2,374.2 L970.3,376.9 L978.6,378.3 L981.4,385.3 L981.4,397.8 L975.8,406.1 L971.7,415.8 L971.7,426.9 L975.8,431.8 L981.4,431.8 L991.1,426.9 L1005.0,421.4 L1014.7,418.6 L1024.4,420.0 L1027.2,431.1 L1028.6,442.2 L1031.4,457.5 L1035.6,467.2 L1041.1,474.2 L1052.2,479.0 L1070.3,477.6 L1082.8,482.5 L1093.9,492.2 L1105.0,500.6 L1112.5,505.0 L1125.0,517.5 L1138.9,528.6 L1154.2,540.4 L1166.7,550.8 L1177.8,556.4 L1194.4,561.9 L1209.7,566.8 L1225.0,573.1 L1238.9,578.6 L1250.0,586.9 L1262.5,593.9 L1275.0,599.4 L1286.1,602.9 L1300.0,605.0 L1305.6,600.8 L1311.1,596.7 L1322.2,593.9 L1336.1,593.2 L1356.9,593.9 L1375.0,595.3 L1381.7,597.5 L1401.1,598.9 L1412.2,596.8 L1423.3,594.0 L1437.2,595.4 L1462.2,596.8 L1476.1,598.9 L1490.0,602.4 L1510.8,607.2 L1524.7,611.4 L1531.7,612.8 L1545.6,611.4 L1566.4,607.9 L1592.8,605.8 L1608.0,611.4 L1621.9,616.2 L1637.2,619.0 L1660.0,620.0 M82.3,685.4 L105.1,696.9 L122.9,705.7 L143.4,713.6 L163.8,719.5 L179.4,723.3 L190.7,713.3 L198.2,703.4 L206.2,683.2 L210.9,668.9 L210.1,658.9 L212.0,647.0 L220.0,638.0 L236.0,630.0 L262.0,620.0 L290.0,614.0 L350.0,599.0 L380.0,592.7 L410.0,588.4 L440.0,575.3 L470.0,565.8 L530.0,545.8 L560.0,533.2 L620.0,522.8 L633.9,521.4 L643.6,511.7 L651.9,497.8 L660.3,483.9 L667.2,470.0 L682.8,448.5 L688.0,445.0 L693.9,442.9 L699.4,441.9 L705.0,440.1 L710.9,438.1 L716.5,435.8 L722.4,435.8 L728.3,436.0 L733.8,437.0 L739.4,439.8 L744.6,442.6 L750.1,442.9 L755.7,440.8 L761.2,437.7 L766.8,436.0 L772.4,433.5 L777.9,431.5 L795.0,415.0 L812.0,397.0 L830.0,379.7 L843.9,370.0 L864.7,354.7 L885.6,346.4 L902.2,338.0 L914.7,336.0 L918.9,345.0 L918.9,356.1 L913.3,367.2 L906.4,381.1 L899.4,395.0 L898.0,406.1 L899.4,413.0 L907.8,414.4 L918.9,408.9 L931.4,406.1 L939.7,411.7 L939.7,420.0 L935.6,431.1 L932.8,440.8 L935.6,450.6 L943.9,463.0 L952.2,470.0 L960.6,474.2 L959.2,483.9 L959.9,495.0 L966.1,499.9 L977.2,499.2 L989.7,496.4 L996.7,497.1 L1006.4,501.2 L1016.1,500.6 L1028.6,498.5 L1041.1,499.2 L1052.2,504.7 L1066.1,511.7 L1080.0,517.2 L1100.0,532.8 L1106.9,541.1 L1115.3,552.2 L1127.8,564.7 L1141.7,573.8 L1158.3,581.4 L1172.2,582.8 L1188.9,584.2 L1205.6,585.6 L1215.3,591.1 L1225.0,599.4 L1231.9,609.2 L1238.9,617.5 L1245.8,625.8 L1252.8,630.7 L1266.7,632.8 L1283.3,636.2 L1297.2,640.4 L1313.9,644.6 L1327.8,649.4 L1336.1,650.8 L1345.8,650.8 L1354.2,645.3 L1362.5,638.3 L1378.9,632.2 L1399.7,628.8 L1427.5,626.7 L1462.2,625.3 L1476.1,623.9 L1487.2,621.8 L1503.9,624.6 L1517.8,627.4 L1531.7,632.2 L1545.6,635.0 L1566.4,633.6 L1590.0,632.2 L1601.1,637.8 L1608.0,641.9 L1621.9,637.8 L1637.2,635.7 L1660.0,635.0 M81.2,687.7 L104.0,699.2 L121.8,708.1 L142.5,716.0 L163.1,722.0 L180.0,725.9 L192.5,715.1 L200.5,704.6 L208.7,684.1 L213.4,669.3 L212.7,658.8 L216.7,650.0 L224.0,642.0 L240.0,636.0 L265.0,631.5 L290.0,631.0 L350.0,612.0 L380.0,611.0 L410.0,597.0 L440.0,586.6 L470.0,579.7 L530.0,566.6 L560.0,559.2 L620.0,545.0 L631.1,540.8 L640.8,536.7 L647.8,529.7 L656.1,515.8 L665.8,497.8 L675.6,481.1 L681.1,470.0 L685.9,456.8 L691.8,454.7 L697.4,452.6 L703.3,450.9 L709.2,451.2 L715.1,451.9 L720.6,453.7 L725.8,456.5 L731.4,459.2 L733.8,464.1 L735.3,474.2 L742.2,478.3 L751.9,476.9 L763.1,472.8 L767.2,470.0 L780.0,462.0 L800.0,455.0 L815.0,450.0 L830.0,447.1 L841.1,445.0 L850.8,438.0 L857.8,435.3 L875.8,434.6 L888.3,433.9 L895.3,428.3 L903.6,427.6 L907.8,432.5 L907.8,443.6 L905.0,451.9 L899.4,458.9 L891.1,465.8 L881.4,474.2 L885.6,479.7 L893.9,481.8 L902.2,481.1 L907.8,488.0 L906.4,495.0 L899.4,499.2 L889.7,501.9 L884.2,504.7 L885.6,508.9 L896.7,509.6 L913.3,510.3 L917.5,515.8 L918.9,520.0 L918.9,520.3 L924.4,532.8 L931.4,543.9 L941.1,553.6 L950.8,561.9 L953.6,567.5 L950.8,575.8 L948.0,582.8 L961.9,584.9 L975.8,588.3 L993.9,592.5 L1010.6,596.0 L1024.4,597.8 L1038.3,598.8 L1052.2,597.8 L1066.1,596.0 L1082.8,593.2 L1089.7,596.7 L1096.7,600.1 L1100.0,601.5 L1113.9,600.8 L1129.2,600.1 L1138.9,605.0 L1148.6,611.2 L1154.2,618.9 L1158.3,628.6 L1165.3,633.5 L1177.8,634.2 L1190.3,634.9 L1202.8,636.9 L1212.5,641.1 L1219.4,645.3 L1233.3,650.8 L1244.4,655.7 L1255.6,661.2 L1273.6,666.1 L1294.4,668.9 L1315.3,670.3 L1336.1,673.1 L1350.0,676.5 L1361.1,681.4 L1376.1,677.4 L1385.8,669.7 L1399.7,662.8 L1420.6,657.9 L1448.3,657.2 L1476.1,655.8 L1503.9,654.4 L1524.7,654.4 L1545.6,651.7 L1559.4,653.0 L1573.3,657.2 L1587.2,663.5 L1601.1,665.6 L1615.0,663.5 L1628.9,659.3 L1637.2,656.5 L1660.0,655.0 M124.0,662.0 L142.0,662.0 L146.0,690.0 L156.0,700.0 L158.0,714.0 L124.0,716.0 L118.0,700.0 L118.0,680.0 L124.0,662.0 M127.0,667.0 L140.0,667.0 L142.0,692.0 L150.0,702.0 L150.0,711.0 L128.0,712.0 L124.0,695.0 L127.0,667.0 M129.0,670.0 L138.0,670.0 L139.0,695.0 L130.0,697.0 L129.0,670.0" fill="none" stroke="#000" stroke-width="2.5" stroke-dasharray="2.5,3.4" stroke-linejoin="round"/>
<path d="M80.0,692.0 L102.8,703.0 L120.8,712.0 L141.7,720.0 L162.5,725.7 L180.6,729.4 L194.4,716.9 L202.8,705.8 L211.1,685.0 L216.0,669.7 L215.3,658.6 L238.9,654.4 L270.8,650.3 L308.3,639.2 L350.0,633.6 L380.0,634.0 L410.0,624.8 L440.0,616.0 L470.0,604.8 L530.0,595.3 L560.0,596.5 L608.6,587.8 L620.0,590.8 L640.8,597.1 L654.7,589.4 L661.0,578.3 L661.7,565.8 L659.6,551.9 L658.9,539.4 L661.7,525.6 L668.6,513.1 L678.3,506.1 L685.3,488.1 L692.2,481.1 L701.9,474.2 L708.9,481.1 L717.2,489.4 L731.1,493.6 L747.8,494.3 L765.8,488.1 L786.7,478.3 L807.5,470.0 L830.0,466.5 L839.7,465.8 L853.6,458.9 L859.9,458.9 L859.2,472.8 L855.0,481.1 L843.9,489.4 L842.5,506.1 L839.7,513.0 L836.9,506.1 L830.0,503.3 L824.2,499.9 L814.4,506.1 L824.2,520.0 L820.0,532.5 L814.4,542.2 L804.7,548.5 L807.5,553.3 L803.3,567.2 L792.2,572.8 L776.9,572.1 L774.9,581.1 L778.3,586.7 L795.0,586.0 L814.4,588.1 L836.7,595.0 L856.1,608.2 L870.0,610.3 L883.9,611.0 L885.6,609.9 L902.2,617.5 L916.1,624.4 L924.4,627.9 L934.2,639.7 L941.1,648.0 L947.4,654.3 L961.9,655.7 L977.2,653.3 L993.2,639.7 L1008.5,655.3 L1024.4,658.5 L1038.3,664.0 L1055.0,668.6 L1084.2,671.0 L1096.0,676.5 L1100.0,677.9 L1111.1,675.1 L1116.0,670.3 L1119.4,675.1 L1131.9,679.3 L1147.2,678.6 L1161.1,685.6 L1183.3,690.4 L1208.3,693.6 L1231.9,692.8 L1254.2,692.2 L1269.4,694.2 L1284.4,706.1 L1312.2,710.3 L1330.3,721.4 L1345.6,708.9 L1365.0,720.4 L1377.5,732.2 L1408.0,726.7 L1423.3,728.5 L1453.9,724.6 L1460.8,720.8 L1438.6,714.9 L1428.2,705.1 L1438.6,690.6 L1453.9,689.9 L1469.2,687.8 L1485.1,685.7 L1500.4,686.4 L1528.9,682.9 L1545.6,681.9 L1576.1,686.7 L1608.0,686.7 L1637.2,682.2 L1660.0,682.0 M80.0,693.5 L102.0,704.3 L120.8,713.8 L136.5,721.5 L149.0,727.0 L166.7,731.0 L189.6,731.8 L193.8,732.8 L197.9,727.5 L204.2,715.0 L214.6,700.4 L222.9,690.0 L225.0,680.6 L230.2,674.4 L240.6,670.7 L256.2,674.9 L271.9,673.3 L300.0,657.7 L320.0,657.5 L350.0,655.0 L385.0,653.8 L400.0,643.8 L440.0,639.6 L470.0,630.0 L485.0,621.2 L502.5,626.2 L505.0,643.8 L517.5,652.5 L550.0,643.8 L578.0,643.0 L600.0,650.0 L626.0,658.0 L632.0,668.0 L636.0,676.0 L630.0,692.0 L640.0,710.0 L654.0,704.0 L658.0,690.0 L650.0,678.0 L643.0,672.0 L652.0,664.0 L680.0,661.0 L700.0,662.0 L716.0,668.0 L730.0,674.0 L760.0,684.0 L780.0,690.0 L795.0,692.5 L816.0,690.0 L836.0,687.0 L876.0,688.0 L896.0,689.0 L932.0,687.0 L948.0,692.0 L968.0,700.0 L992.0,706.0 L1008.0,702.0 L1024.0,704.0 L1052.0,709.0 L1070.0,721.0 L1086.0,716.0 L1090.0,715.8 L1115.0,713.0 L1145.6,706.1 L1177.5,714.4 L1192.8,704.7 L1209.4,704.7 L1223.3,713.6 L1245.6,715.8 L1267.8,722.8 L1292.8,732.5 L1315.0,740.0 L1346.9,749.2 L1367.8,758.9 L1390.0,767.8 L1423.3,771.4 L1456.7,778.3 L1484.4,786.7 L1512.2,795.6 L1531.7,797.2 L1562.2,788.1 L1606.7,788.1 L1626.1,785.3 L1637.2,781.1 L1660.0,780.0 M717.2,506.1 L731.1,510.3 L745.0,518.6 L750.6,529.7 L751.9,539.4 L749.2,547.8 L743.6,557.5 L730.0,569.0 L717.2,578.3 L708.9,588.0 L700.6,595.0 L695.0,592.2 L688.0,585.3 L682.5,574.2 L675.6,553.3 L670.0,536.7 L675.6,522.8 L683.9,514.4 L697.8,508.2 L708.9,506.1 L717.2,506.1 M1660.0,708.0 L1637.2,710.0 L1623.3,720.4 L1637.2,723.9 L1660.0,725.0 L1660.0,708.0 M83.1,694.3 L103.2,705.3 L128.3,719.4 L153.1,734.3 L178.4,747.0 L194.2,760.0 L205.0,772.0 L215.0,783.0 L225.7,792.8 L227.1,783.1 L234.7,762.2 L241.7,744.2 L248.6,723.3 L250.7,706.7 L255.6,698.3 L271.5,689.3 L286.1,706.0 L302.8,706.7 L331.9,719.9 L347.2,720.6 L363.9,717.8 L379.2,706.7 L394.4,705.3 L411.1,694.2 L436.1,687.2 L470.8,676.8 L483.0,690.0 L486.0,704.0 L496.0,720.0 L502.0,744.0 L532.0,744.0 L548.0,736.0 L564.0,724.0 L580.0,730.0 L612.0,736.0 L640.0,748.0 L656.0,747.0 L680.0,738.0 L696.0,730.0 L712.0,716.0 L730.0,708.0 L734.0,703.0 L720.0,698.0 L712.0,694.0 L700.0,680.0 L688.0,672.0 L666.0,672.0 L690.0,667.0 L720.0,674.0 L750.0,686.0 L790.0,700.0 L796.0,706.0 L816.0,709.0 L836.0,710.0 L870.0,708.0 L892.0,712.0 L916.0,709.0 L932.0,714.0 L948.0,719.0 L976.0,726.0 L996.0,734.0 L1012.0,740.0 L1028.0,744.0 L1052.0,746.0 L1076.0,750.0 L1090.0,753.3 L1131.7,756.1 L1159.4,771.4 L1187.2,778.3 L1215.0,783.9 L1242.8,793.6 L1270.6,799.2 L1298.3,802.8 L1331.7,801.9 L1348.3,792.2 L1365.0,788.6 L1395.6,789.4 L1423.3,803.3 L1445.6,808.9 L1470.6,815.3 L1495.6,817.2 L1534.4,820.0 L1562.2,824.2 L1592.8,825.6 L1609.4,818.6 L1637.2,820.0 L1660.0,820.0 M703.3,542.2 L715.8,538.8 L717.2,547.8 L714.4,558.9 L710.3,570.0 L703.3,583.9 L697.8,576.9 L693.6,565.8 L697.8,551.9 L703.3,542.2 M586.0,674.0 L600.0,666.0 L616.0,662.0 L612.0,676.0 L600.0,684.0 L592.0,686.0 L586.0,674.0 M82.5,695.4 L102.5,706.5 L127.6,720.5 L152.5,735.4 L177.8,748.1 L197.0,761.5 L199.1,779.6 L201.2,796.8 L208.5,809.0 L219.6,822.4 L241.2,839.1 L255.8,848.8 L262.5,839.0 L283.0,826.0 L278.0,813.6 L283.3,803.9 L294.4,791.4 L302.8,783.1 L325.0,780.3 L333.3,777.5 L350.0,778.9 L359.7,765.0 L366.7,751.1 L380.6,745.6 L387.5,737.2 L394.4,717.8 L408.3,708.1 L430.0,698.0 L460.0,700.0 L480.0,706.0 L488.0,720.0 L486.0,736.0 L478.0,752.0 L472.0,764.0 L474.0,780.0 L480.0,792.0 L486.0,800.0 L502.0,792.0 L524.0,798.0 L560.0,806.0 L592.0,813.0 L620.0,802.0 L640.0,792.0 L664.0,778.0 L680.0,770.0 L700.0,761.0 L720.0,762.0 L740.0,768.0 L760.0,764.0 L780.0,756.0 L796.0,754.0 L816.0,752.0 L846.0,751.0 L854.0,755.0 L862.0,754.0 L880.0,750.0 L900.0,751.0 L924.0,754.0 L936.0,754.0 L944.0,751.0 L936.0,748.0 L930.0,738.0 L936.0,734.0 L956.0,740.0 L976.0,748.0 L996.0,754.0 L1012.0,756.0 L1020.0,762.0 L1028.0,772.0 L1036.0,784.0 L1054.0,790.0 L1076.0,789.0 L1096.0,791.0 L1116.0,792.0 L1124.0,798.0 L1156.0,799.0 L1176.0,808.0 L1192.0,814.0 L1203.9,817.2 L1223.3,818.6 L1262.2,818.6 L1284.4,822.8 L1331.7,824.2 L1345.6,832.5 L1367.8,831.7 L1409.4,829.7 L1437.2,834.4 L1478.9,843.6 L1478.9,855.0 L1490.0,874.4 L1453.9,881.4 L1442.8,891.1 L1448.3,905.0 L1470.6,925.8 L1501.1,925.8 L1523.3,920.3 L1531.7,905.0 L1545.6,911.9 L1576.1,905.0 L1606.7,905.0 L1623.3,911.9 L1634.4,903.6 L1660.0,903.0 M81.9,696.6 L101.9,707.6 L127.0,721.6 L151.9,736.6 L177.1,749.2 L195.2,762.4 L196.5,779.7 L198.7,797.6 L206.4,810.5 L217.8,824.3 L239.6,841.2 L254.0,850.8 L263.5,855.5 L274.0,844.5 L290.0,849.0 L302.0,853.0 L313.0,840.0 L315.0,827.5 L307.5,810.0 L318.0,801.0 L325.0,794.0 L333.0,789.0 L346.0,787.0 L353.0,789.0 L371.0,782.0 L378.0,773.0 L381.0,758.0 L388.0,751.0 L394.0,737.0 L399.0,722.0 L405.0,712.0 L420.0,706.0 L440.0,703.0 L460.0,704.0 L476.0,708.0 L484.0,716.0 L487.0,730.0 L484.0,745.0 L476.0,760.0 L470.0,775.0 L470.0,788.0 L466.0,800.0 L464.0,820.0 L460.0,840.0 L462.0,859.0 L452.0,870.0 L454.0,877.0 L496.0,879.0 L540.0,873.0 L540.0,858.0 L548.0,858.0 L560.0,876.0 L570.0,890.0 L576.0,904.0 L578.0,948.0 L588.0,968.0 L594.0,978.0 L598.0,960.0 L598.0,940.0 L602.0,914.0 L618.0,902.0 L632.0,892.0 L656.0,886.0 L680.0,870.0 L702.0,854.0 L728.0,842.0 L764.0,832.0 L776.0,816.0 L780.0,810.0 L768.0,804.0 L772.0,800.0 L788.0,798.0 L796.0,798.0 L808.0,802.0 L832.0,812.0 L834.0,816.0 L820.0,828.0 L832.0,842.0 L854.0,855.0 L884.0,854.0 L900.0,860.0 L916.0,873.0 L924.0,862.0 L936.0,844.0 L948.0,828.0 L960.0,812.0 L972.0,816.0 L980.0,824.0 L988.0,812.0 L996.0,806.0 L1022.0,800.0 L1024.0,816.0 L1020.0,822.0 L1008.0,824.0 L1006.0,830.0 L1008.0,842.0 L1022.0,830.0 L1040.0,826.0 L1032.0,842.0 L1040.0,850.0 L1054.0,847.0 L1070.0,859.0 L1092.0,842.0 L1108.0,828.0 L1124.0,824.0 L1130.0,844.0 L1146.0,838.0 L1164.0,838.0 L1192.0,832.0 L1226.0,837.0 L1257.0,848.0 L1267.8,855.0 L1281.7,871.7 L1290.0,895.3 L1253.9,881.4 L1242.8,910.6 L1226.1,920.3 L1240.0,927.2 L1248.3,927.2 L1274.7,943.9 L1295.6,960.6 L1328.9,977.2 L1362.2,980.0 L1384.4,964.7 L1395.6,961.9 L1440.0,975.8 L1478.9,973.1 L1523.3,977.2 L1576.1,971.7 L1606.7,963.3 L1634.4,968.9 L1660.0,969.0 M908.0,782.0 L924.0,768.0 L940.0,760.0 L968.0,758.0 L984.0,754.0 L1008.0,758.0 L1012.0,768.0 L1004.0,780.0 L996.0,792.0 L984.0,806.0 L966.0,806.0 L948.0,798.0 L936.0,800.0 L920.0,794.0 L908.0,782.0 M81.3,697.7 L101.3,708.7 L126.3,722.8 L151.3,737.7 L176.4,750.3 L193.5,763.3 L193.9,779.8 L196.2,798.4 L204.2,812.0 L216.0,826.2 L238.1,843.3 L252.7,853.0 L262.3,857.8 L275.0,847.0 L290.0,850.5 L302.5,855.0 L314.0,841.0 L330.0,835.5 L350.0,831.5 L370.0,835.0 L384.0,836.0 L397.0,848.0 L402.0,861.0 L407.0,869.0 L422.0,871.5 L434.0,886.0 L438.0,890.0 L448.0,884.0 L464.0,882.0 L494.0,883.0 L524.0,890.0 L548.0,892.0 L560.0,900.0 L570.0,910.0 L576.0,928.0 L580.0,948.0 L580.0,960.0 L580.0,972.0 L572.0,968.0 L562.0,964.0 L564.0,984.0 L574.0,1000.0 L586.0,1016.0 L593.0,1028.0 L605.0,1027.5 L615.0,1015.0 L627.5,997.5 L650.0,980.0 L670.0,975.0 L675.0,965.0 L670.0,951.2 L686.2,947.5 L695.0,950.0 L703.8,956.2 L697.5,935.0 L715.0,928.8 L742.5,942.5 L745.0,956.2 L770.0,955.0 L795.0,950.0 L805.0,935.0 L825.0,936.2 L840.0,932.5 L852.5,936.2 L832.5,950.0 L870.0,956.2 L902.5,950.0 L917.5,943.8 L940.0,947.5 L965.0,955.0 L1000.0,952.5 L1025.0,946.2 L1038.8,956.2 L1055.0,940.0 L1077.5,965.0 L1090.0,968.8 L1103.9,966.1 L1098.3,949.4 L1120.6,963.3 L1145.6,971.7 L1181.7,981.4 L1209.4,988.3 L1245.6,982.8 L1270.6,974.4 L1290.0,988.3 L1290.0,999.4 L1276.1,1010.6 L1273.3,1032.8 L1262.2,1041.1 L1284.4,1052.2 L1301.1,1068.9 L1331.7,1071.7 L1362.2,1018.9 L1373.3,1043.9 L1363.6,1060.6 L1365.0,1071.7 L1377.5,1078.6 L1398.3,1066.1 L1408.0,1043.9 L1395.6,1021.7 L1381.7,1013.3 L1408.0,989.7 L1444.2,998.0 L1453.9,1016.1 L1469.2,998.0 L1484.4,1021.7 L1501.1,1037.0 L1523.3,1010.6 L1545.6,992.5 L1559.4,1013.3 L1590.0,1035.6 L1634.4,1020.3 L1660.0,1018.0 M940.0,764.0 L962.0,768.0 L970.0,760.0 L1004.0,764.0 L996.0,780.0 L980.0,800.0 L962.0,800.0 L948.0,788.0 L940.0,776.0 L940.0,764.0 M730.0,887.5 L760.0,883.8 L793.8,878.8 L817.5,887.5 L811.2,895.0 L793.8,908.8 L770.0,913.8 L747.5,922.5 L730.0,907.5 L730.0,887.5 M400.0,718.0 L412.0,708.0 L440.0,706.0 L466.0,708.0 L480.0,720.0 L484.0,732.0 L476.0,748.0 L460.0,760.0 L440.0,768.0 L424.0,764.0 L410.0,772.0 L396.0,778.0 L390.0,770.0 L394.0,755.0 L398.0,740.0 L402.0,725.0 L400.0,718.0 M80.6,698.9 L100.6,709.9 L125.7,723.9 L150.6,738.9 L175.7,751.4 L191.7,764.1 L191.3,779.9 L193.7,799.2 L202.1,813.5 L214.3,828.1 L236.5,845.4 L251.3,855.3 L261.2,860.2 L275.0,849.5 L290.0,852.0 L302.5,856.5 L315.0,842.5 L330.0,837.0 L350.0,833.0 L370.0,836.5 L382.0,838.0 L395.0,850.0 L400.0,863.0 L405.0,872.0 L421.0,874.5 L432.0,888.0 L440.0,898.0 L458.0,892.0 L488.0,890.0 L512.0,896.0 L544.0,894.0 L560.0,906.0 L572.0,924.0 L570.0,944.0 L560.0,960.0 L552.0,980.0 L558.0,998.0 L570.0,1014.0 L584.0,1026.0 L600.0,1044.0 L616.0,1064.0 L636.0,1082.0 L650.0,1092.0 L660.0,1096.0 L688.0,1096.0 L704.0,1088.0 L700.0,1075.0 L705.0,1065.0 L720.0,1042.5 L737.5,1017.5 L755.0,1000.0 L770.0,1000.0 L785.0,995.0 L815.0,985.0 L840.0,977.5 L882.5,975.0 L915.0,978.8 L957.5,980.0 L995.0,985.0 L1025.0,991.2 L1045.0,1007.5 L1062.5,1042.5 L1090.0,1041.2 L1098.3,1035.6 L1101.1,1013.3 L1140.0,1010.6 L1144.2,1032.8 L1162.2,1053.6 L1167.8,1021.7 L1156.7,1011.9 L1206.7,1007.8 L1217.8,1018.9 L1234.4,1032.8 L1228.9,1046.7 L1234.4,1071.7 L1256.7,1099.4 L1270.6,1114.7 L1290.0,1135.6 L1295.6,1155.0 L1312.2,1168.9 L1331.7,1188.3 L1340.0,1213.3 L1348.3,1213.9 L1378.5,1219.0 L1392.6,1211.9 L1380.6,1192.8 L1372.5,1176.7 L1374.5,1164.6 L1378.5,1150.5 L1388.6,1154.5 L1386.6,1136.4 L1392.6,1129.3 L1404.7,1134.4 L1399.7,1150.5 L1408.8,1152.5 L1428.9,1144.5 L1447.0,1138.4 L1475.2,1111.2 L1485.3,1106.2 L1499.4,1106.2 L1513.5,1089.1 L1537.7,1088.1 L1561.8,1094.1 L1573.9,1088.1 L1592.0,1087.0 L1600.1,1094.1 L1606.1,1104.2 L1604.1,1116.3 L1610.2,1122.3 L1626.3,1127.3 L1638.0,1125.3 L1660.0,1125.0 M956.0,780.0 L970.0,778.0 L984.0,776.0 L986.0,786.0 L976.0,798.0 L960.0,794.0 L956.0,780.0 M406.0,726.0 L420.0,718.0 L450.0,714.0 L466.0,718.0 L474.0,730.0 L468.0,744.0 L452.0,756.0 L436.0,758.0 L420.0,752.0 L408.0,742.0 L406.0,726.0 M80.0,700.0 L100.0,711.0 L125.0,725.0 L150.0,740.0 L175.0,752.5 L190.0,765.0 L188.8,780.0 L191.2,800.0 L200.0,815.0 L212.5,830.0 L235.0,847.5 L250.0,857.5 L260.0,862.5 L275.0,852.0 L290.0,853.5 L302.5,858.0 L315.0,844.0 L330.0,838.5 L350.0,834.5 L370.0,838.0 L380.0,841.0 L392.5,852.5 L397.5,865.0 L402.5,875.0 L420.0,877.5 L430.0,890.0 L437.5,902.5 L445.0,906.2 L460.0,900.0 L470.0,898.0 L486.0,897.0 L508.0,904.0 L540.0,904.0 L558.0,916.0 L566.0,934.0 L546.0,950.0 L550.0,964.0 L544.0,980.0 L552.0,998.0 L548.0,1014.0 L560.0,1014.0 L576.0,1026.0 L588.0,1038.0 L600.0,1052.0 L610.0,1064.0 L626.0,1078.0 L636.0,1088.0 L648.0,1098.0 L680.0,1098.0 L700.0,1094.0 L707.5,1100.0 L735.0,1082.5 L757.5,1075.0 L752.5,1057.5 L770.0,1040.0 L800.0,1020.0 L817.5,1005.0 L847.5,991.2 L885.0,991.2 L915.0,996.2 L957.5,992.5 L985.0,995.0 L1005.0,1002.5 L1035.0,1010.0 L1052.5,1027.5 L1070.0,1048.8 L1090.0,1047.5 L1115.0,1035.6 L1140.0,1055.0 L1178.9,1074.4 L1192.8,1057.8 L1217.8,1070.3 L1220.6,1085.6 L1242.8,1099.4 L1262.2,1121.7 L1273.3,1143.9 L1253.9,1149.4 L1251.1,1166.1 L1262.2,1182.8 L1273.3,1188.3 L1295.6,1185.6 L1306.7,1199.4 L1334.4,1215.0 L1346.3,1225.0 L1360.4,1241.1 L1368.5,1239.1 L1376.5,1251.2 L1392.6,1241.1 L1408.8,1227.0 L1422.9,1208.9 L1441.0,1204.9 L1461.1,1193.8 L1483.3,1186.7 L1501.4,1202.9 L1511.5,1212.9 L1515.5,1221.0 L1533.6,1224.0 L1534.6,1229.0 L1517.5,1230.1 L1501.4,1239.1 L1498.4,1247.2 L1501.4,1265.3 L1483.3,1273.4 L1515.5,1274.4 L1527.6,1285.4 L1537.7,1299.5 L1551.8,1309.6 L1571.9,1314.7 L1592.0,1320.7 L1614.2,1319.7 L1626.3,1305.6 L1622.3,1291.5 L1620.2,1273.4 L1638.0,1279.4 L1660.0,1280.0 M968.0,782.0 L977.0,776.0 L984.0,781.0 L977.0,789.0 L968.0,782.0 M406.0,731.0 L416.0,730.0 L417.0,742.0 L406.0,743.0 L406.0,731.0 M80.0,890.0 L100.0,892.5 L117.5,902.5 L140.0,901.2 L147.5,921.2 L157.5,913.8 L200.0,911.2 L232.5,917.5 L255.0,936.2 L287.5,941.2 L307.5,950.0 L325.0,970.0 L365.0,978.8 L372.5,998.8 L380.0,1001.2 L390.0,997.5 L410.0,1002.5 L435.0,1012.5 L465.0,1027.5 L472.5,1042.5 L490.0,1057.5 L512.5,1067.5 L535.0,1077.5 L562.5,1086.2 L595.0,1110.0 L607.5,1132.5 L645.0,1150.0 L670.0,1166.2 L677.5,1158.8 L725.0,1158.8 L740.0,1172.5 L745.0,1192.5 L762.5,1206.2 L780.0,1197.5 L787.5,1177.5 L795.0,1170.0 L797.3,1198.5 L825.8,1224.6 L811.6,1246.0 L799.7,1265.0 L790.2,1288.7 L771.2,1307.7 L761.7,1331.4 L719.0,1333.8 L714.2,1364.7 L714.0,1400.0 M80.0,988.0 L100.0,990.0 L117.5,1001.2 L132.5,998.8 L130.0,993.8 L126.2,963.8 L135.0,956.2 L147.5,952.5 L162.5,961.2 L182.5,948.8 L210.0,940.0 L242.5,945.0 L260.0,957.5 L272.5,977.5 L290.0,981.2 L232.5,991.2 L225.0,997.5 L230.0,1012.5 L221.2,1027.5 L256.2,1045.0 L265.0,1040.0 L325.0,1035.0 L362.5,1026.2 L392.5,1046.2 L425.0,1047.5 L450.0,1056.2 L452.5,1072.5 L440.0,1090.0 L461.2,1103.8 L455.0,1113.8 L445.0,1120.0 L467.5,1121.2 L490.0,1128.8 L517.5,1130.0 L530.0,1115.0 L535.0,1105.0 L547.5,1103.8 L557.5,1121.2 L570.0,1145.0 L595.0,1162.5 L617.5,1187.5 L637.5,1190.0 L666.7,1191.7 L700.0,1200.0 L720.0,1216.7 L730.0,1228.3 L733.3,1246.7 L750.0,1286.7 L733.3,1303.3 L720.0,1320.0 L715.0,1340.0 L703.3,1366.7 L700.0,1400.0 M80.0,1070.0 L100.0,1071.2 L125.0,1073.8 L165.0,1080.0 L207.5,1097.5 L225.0,1103.8 L255.0,1100.0 L271.2,1106.2 L290.0,1101.2 L310.0,1105.0 L325.0,1117.5 L347.5,1142.5 L375.0,1145.0 L393.8,1155.0 L425.0,1161.2 L453.3,1170.0 L476.7,1193.3 L486.7,1225.0 L493.3,1213.3 L516.7,1201.7 L530.0,1205.0 L546.7,1191.7 L565.0,1195.0 L570.0,1213.3 L578.3,1233.3 L593.3,1230.0 L613.3,1235.0 L640.0,1233.3 L663.3,1240.0 L673.3,1260.0 L690.0,1268.3 L691.7,1288.3 L680.0,1303.3 L666.7,1316.7 L656.7,1336.7 L646.7,1356.7 L640.0,1366.7 L638.0,1400.0 M80.0,1203.0 L100.0,1203.8 L117.5,1200.0 L137.5,1210.0 L150.0,1220.0 L163.3,1211.7 L153.3,1200.0 L150.0,1188.3 L130.0,1181.2 L147.5,1180.0 L163.8,1166.2 L195.0,1175.0 L215.0,1197.5 L228.3,1210.0 L233.3,1226.7 L236.7,1245.0 L250.0,1273.3 L236.7,1286.7 L235.0,1303.3 L246.7,1320.0 L246.7,1335.0 L256.7,1343.3 L271.7,1346.7 L286.7,1340.0 L333.3,1350.0 L356.7,1358.3 L366.7,1365.0 L370.0,1400.0 M80.0,1262.0 L100.0,1260.0 L110.0,1255.0 L136.7,1266.7 L158.3,1273.3 L151.7,1290.0 L155.0,1310.0 L163.3,1335.0 L150.0,1355.0 L143.3,1370.0 L140.0,1400.0 M266.7,1241.7 L286.7,1220.0 L303.3,1218.3 L316.7,1225.0 L333.3,1208.3 L348.3,1215.0 L363.3,1226.7 L365.0,1236.7 L355.0,1260.0 L345.0,1278.3 L343.3,1288.3 L318.3,1306.7 L311.7,1301.7 L308.3,1285.0 L301.7,1270.0 L305.0,1255.0 L296.7,1251.7 L270.0,1248.3 L266.7,1241.7 M406.7,1366.7 L410.0,1335.0 L433.3,1326.7 L460.0,1318.3 L451.7,1343.3 L453.3,1363.3 M560.0,1305.0 L593.3,1296.7 L610.0,1305.0 L606.7,1310.0 L580.0,1330.0 L561.7,1320.0 L560.0,1305.0 M222.7,705.3 L225.7,701.3 L228.7,705.3 L225.7,709.3 L222.7,705.3 M249.6,812.2 L255.6,806.2 L261.6,812.2 L255.6,818.2 L249.6,812.2 M402.3,781.7 L408.3,775.7 L414.3,781.7 L408.3,787.7 L402.3,781.7 M388.4,798.3 L394.4,792.3 L400.4,798.3 L394.4,804.3 L388.4,798.3 M329.3,794.3 L338.3,797.3 L330.3,802.3 L329.3,794.3 M412.7,731.8 L421.7,734.8 L413.7,739.8 L412.7,731.8 M854.5,567.0 L863.5,570.0 L855.5,575.0 L854.5,567.0 M1084.3,639.2 L1093.3,642.2 L1085.3,647.2 L1084.3,639.2 M727.5,643.6 L737.5,644.6 L727.5,643.6 M823.2,613.0 L825.2,614.0 L823.2,613.0 M322.5,1074.0 L332.5,1075.0 L322.5,1074.0 M390.8,1088.8 L393.8,1084.8 L396.8,1088.8 L393.8,1092.8 L390.8,1088.8 M436.0,1252.7 L445.0,1255.7 L437.0,1260.7 L436.0,1252.7 M515.7,1273.3 L517.7,1274.3 L515.7,1273.3 M528.7,1288.3 L531.7,1284.3 L534.7,1288.3 L531.7,1292.3 L528.7,1288.3 M540.0,1335.0 L550.0,1336.0 L540.0,1335.0 M883.0,1273.0 L886.0,1269.0 L889.0,1273.0 L886.0,1277.0 L883.0,1273.0 M929.0,1337.0 L932.0,1333.0 L935.0,1337.0 L932.0,1341.0 L929.0,1337.0 M1130.7,950.8 L1132.7,951.8 L1130.7,950.8 M1279.4,920.3 L1289.4,921.3 L1279.4,920.3 M1527.3,1042.5 L1530.3,1038.5 L1533.3,1042.5 L1530.3,1046.5 L1527.3,1042.5 M518.0,699.5 L519.5,710.5 L516.5,710.5 L518.0,699.5 M790.6,812.5 L793.6,808.5 L796.6,812.5 L793.6,816.5 L790.6,812.5 M579.0,852.0 L580.5,863.0 L577.5,863.0 L579.0,852.0 M826.0,776.0 L817.0,781.0 L825.0,786.0 L841.0,784.0 M870.0,808.0 L863.0,813.0 L874.0,818.0 L890.0,817.0 M1660.0,1161.6 L1638.0,1161.6 L1614.2,1160.6 L1600.1,1162.6 L1575.0,1165.0 L1556.0,1172.0 L1549.7,1180.7 L1555.8,1192.8 L1569.9,1202.9 L1592.0,1208.9 L1610.2,1200.8 L1622.3,1192.8 L1638.0,1188.8 L1660.0,1188.0 M1553.8,1241.1 L1554.8,1259.3 L1567.9,1278.4 L1592.0,1298.5 L1598.1,1273.4 L1595.1,1257.3 L1597.1,1241.1 L1588.0,1235.1 M1300.0,1192.8 L1312.1,1200.8 L1328.2,1217.0 L1346.3,1233.1 L1360.4,1247.2 L1380.6,1271.3 L1386.6,1288.5 L1394.7,1289.5 L1402.7,1271.3 L1406.7,1241.1 L1422.9,1229.0 L1441.0,1229.0 L1455.1,1221.0 L1483.3,1241.1 L1453.1,1251.2 L1449.0,1261.3 L1450.1,1279.4 L1455.1,1289.5 L1469.2,1295.5 L1477.2,1291.5 M1501.4,1299.5 L1515.5,1317.7 L1531.6,1316.7 L1543.7,1331.8 L1557.8,1335.8 L1559.8,1355.9 L1561.8,1359.0 L1575.9,1349.9 L1592.0,1339.8 L1608.2,1333.8 L1618.2,1339.8 L1622.3,1347.9 L1630.3,1341.8 L1638.0,1333.8 M1418.8,1194.8 L1420.8,1182.7 L1441.0,1184.7 L1457.1,1189.8 L1459.1,1184.7 L1481.3,1181.7 L1501.4,1183.7 L1513.5,1186.7 L1531.6,1194.8 L1551.8,1200.8 L1567.9,1214.9 L1582.0,1229.0 L1592.0,1233.1 L1602.1,1241.1 L1608.2,1261.3 L1614.2,1281.4 L1622.3,1301.6 L1630.3,1309.6 L1638.0,1311.6 M80.0,860.0 L100.0,866.2 L125.0,876.2 L157.5,887.5 L178.8,891.2 L202.5,887.5 L220.0,888.8 L225.0,901.2 L240.0,908.8 L260.0,912.5 L305.0,907.5 L317.5,901.2 L325.0,901.2 L350.0,925.0 L362.5,940.0 L372.5,950.0 L410.0,965.0 L432.5,972.5 L470.0,975.0 L482.5,967.5 L490.0,970.0 L505.0,990.0 L525.0,1005.0 L540.0,1030.0 M80.0,832.0 L100.0,840.0 L140.0,857.5 L175.0,877.5 L210.0,883.8 L250.0,865.0 L275.0,860.0 L315.0,892.5 L345.0,915.0 L365.0,935.0 L407.5,952.5 L450.0,960.0 L480.0,955.0 M79.4,701.1 L99.4,712.1 L124.3,726.1 L149.4,741.1 L174.3,753.6 L188.8,765.6 L187.5,780.0 L190.0,800.4 L198.9,815.8 L211.6,831.0 L234.2,848.5 L249.3,858.6 L259.4,863.7 M78.7,702.3 L98.7,713.3 L123.7,727.2 L148.7,742.3 L173.6,754.7 L187.7,766.2 L186.2,780.1 L188.8,800.8 L197.9,816.5 L210.7,831.9 L233.5,849.6 L248.7,859.7 L258.8,864.8" fill="none" stroke="#000" stroke-width="2.2" stroke-linejoin="round"/>
<path d="M186.8,568.7 L177.0,597.9 L170.8,628.6 L170.8,674.6 L186.2,711.5 L189.3,729.9 L207.7,757.6 L223.0,776.0 L232.2,788.3 L256.8,796.0 L272.1,808.2 L293.6,802.1 L318.2,799.0 L339.7,792.9 L353.5,794.4 L364.2,799.0 L379.6,782.1 L388.8,766.8 L394.9,751.4 L396.5,726.8 L401.1,717.6 L422.6,711.5 L456.4,705.3 L487.1,705.3 L502.4,703.8 L508.5,714.6 L502.4,733.0 L490.1,745.3 L487.1,763.7 L480.9,788.3 L476.3,806.7 L468.6,797.5 L462.5,800.6 L468.6,819.0 L464.0,834.3 L462.5,855.8 L450.2,874.3 L444.1,877.3 L453.3,883.5 L471.7,883.5 L487.1,880.4 L505.5,882.0 L533.1,877.3 L563.8,875.8 L585.3,880.4 L612.9,897.3 L620.6,906.5 L616.0,935.7 L609.9,966.4 L606.8,987.9 L603.7,1009.4 L605.2,1030.9 L622.1,1055.5 L637.5,1073.9 L649.8,1083.1 L665.1,1089.3 L680.5,1095.4 L695.8,1086.2 L717.3,1078.5 L732.6,1070.8 L748.0,1073.9 L769.5,1077.0 L791.0,1098.5 L798.7,1100.0 L812.5,1110.8 L815.5,1123.1 L817.1,1101.6 L830.9,1089.3 L846.2,1077.0 L853.9,1049.3 L870.8,1030.9 L876.9,1024.8 L895.4,1018.6 L923.0,1018.6 L947.5,1003.3 L969.0,987.9 L984.4,983.3 L990.5,994.1 L982.9,1003.3 L964.4,1009.4 L970.6,1024.8 L975.2,1028.8 L979.8,1028.8 L993.6,1027.8 L1015.1,1015.6 L1018.2,1007.9 L1016.6,994.1 L1025.8,991.0 L1030.4,1006.3 L1036.6,1014.0 L1061.1,1015.6 L1076.5,1027.8 L1079.6,1041.7 L1116.4,1040.1 L1141.0,1040.1 L1147.1,1047.8 L1174.7,1057.0 L1190.1,1052.4 L1208.5,1043.2 L1239.2,1037.1 L1269.9,1037.1 L1273.0,1038.6 L1251.5,1041.7 L1260.7,1058.6 L1285.2,1064.7 L1303.7,1080.1 L1306.7,1101.6 L1331.3,1104.6 L1355.9,1120.0 L1380.4,1150.7 L1386.6,1156.8 L1414.2,1178.3 L1426.5,1183.0 L1457.2,1184.5 L1478.7,1184.5 L1515.5,1187.6 L1537.0,1196.8 L1564.6,1215.2 L1583.0,1227.5 L1592.2,1236.7 L1604.5,1245.9 L1616.8,1301.2 L1626.0,1310.4 L1638.3,1335.0 L1641.4,1359.6 M94.1,837.4 L134.0,855.8 L164.7,868.1 L195.4,877.3 L220.0,883.5 L250.7,869.7 L272.1,868.1 L290.6,874.3 L318.2,895.8 L339.7,917.3 L364.2,935.7 L394.9,938.8 L416.4,948.0 L447.1,960.3 L474.8,960.3 L480.9,955.7 L490.1,966.4 L493.2,969.5 L511.6,991.0 L533.1,1012.5 L542.3,1024.8 L539.2,1046.3 L537.7,1058.6 L557.7,1067.8 L566.9,1060.1 L573.0,1070.8 L594.5,1080.1 L606.8,1098.5 L603.7,1107.7 L619.1,1107.7 L628.3,1118.5 L649.8,1113.8 L665.1,1120.0 L680.5,1132.3 L689.7,1144.6 L705.0,1141.5 L717.3,1132.3 L708.1,1113.8 L723.4,1101.6 L732.6,1090.8 L751.1,1092.3 L766.4,1110.8 L772.6,1107.7 L775.6,1123.1 L781.8,1144.6 L794.0,1159.9 L798.7,1193.7 L794.0,1236.7 L803.3,1249.0 L791.0,1279.7 L760.3,1295.1 L754.1,1316.6 L748.0,1328.8 L717.3,1341.1 L714.2,1371.8 M565.3,694.6 L585.3,690.0 L612.9,665.4 L643.6,654.7 L671.2,656.2 L698.9,657.7 L726.5,668.5 L754.1,677.7 L787.9,694.6 L812.5,708.4 L840.1,716.1 L852.4,729.9 L876.9,733.0 L896.9,745.3 L873.9,751.4 L846.2,753.0 L818.6,754.5 L787.9,756.0 L803.3,736.1 L781.8,729.9 L763.4,720.7 L757.2,702.3 L720.4,699.2 L702.0,688.5 L680.5,683.8 L659.0,677.7 L652.8,679.2 L631.3,668.5 L612.9,683.8 L594.5,693.1 L579.1,696.1 L565.3,694.6 M975.2,1029.4 L962.9,1046.3 L961.4,1070.8 L972.1,1086.2 L990.5,1083.1 L993.6,1064.7 L984.4,1043.2 L978.2,1029.4 M620.6,702.3 L626.7,693.1 L637.5,696.1 L639.0,703.8 L628.3,706.9 L620.6,702.3 M766.4,803.6 L781.8,797.5 L809.4,800.6 L830.9,808.2 L834.0,815.9 L812.5,817.5 L787.9,817.5 L769.5,806.7 L766.4,803.6 M887.7,802.1 L907.6,796.0 L938.3,799.0 L952.2,794.4 L938.3,783.7 L938.3,772.9 L919.9,762.2 L932.2,754.5 L962.9,759.1 L972.1,756.0 L996.7,754.5 L1024.3,762.2 L1027.4,771.4 L1048.9,772.9 L1036.6,780.6 L1064.2,783.7 L1075.0,794.4 L1064.2,806.7 L1039.7,800.6 L1024.3,800.6 L1005.9,806.7 L990.5,809.8 L981.3,825.1 L972.1,820.5 L969.0,811.3 L950.6,806.7 L919.9,808.2 L901.5,811.3 L887.7,802.1 M1108.7,802.1 L1111.8,812.8 L1147.1,814.4 L1159.4,806.7 L1156.3,800.6 L1131.8,797.5 L1111.8,797.5 L1108.7,802.1 M1273.0,1057.0 L1300.6,1054.0 L1303.7,1034.0 L1279.1,1037.1 L1285.2,1049.3 L1273.0,1057.0 M772.6,591.7 L786.4,607.1 L791.0,625.5 L781.8,634.7 L769.5,619.3 L772.6,591.7 M748.0,548.7 L769.5,544.1 L781.8,547.2 L766.4,551.8 L748.0,548.7 M791.0,539.5 L806.3,550.2 L809.4,561.0 L800.2,570.2 L803.3,554.9 L791.0,539.5 M817.1,581.0 L834.0,591.7 L835.5,605.5 L830.9,594.8 L817.1,581.0 M847.8,608.6 L860.1,624.0 L855.5,619.3 L847.8,608.6 M861.6,639.3 L875.4,662.3 L870.8,653.1 L861.6,639.3 M837.0,636.2 L850.8,645.5 L837.0,636.2 M892.3,667.0 L904.6,674.6 L901.5,683.8 L890.8,680.8 L892.3,667.0 M912.2,717.6 L929.1,716.1 L932.2,722.2 L915.3,722.2 L912.2,717.6 M927.6,676.2 L939.9,679.2 L927.6,676.2 M953.7,694.6 L975.2,696.1 L978.2,700.7 L953.7,694.6 M792.5,596.3 L801.7,596.3 L792.5,596.3 M187.7,567.5 L187.3,568.2 L183.2,549.1 L179.1,532.7 L172.3,524.5 L187.3,510.9 L206.4,489.1 L214.5,485.0 L228.2,480.9 L252.7,467.3 L260.9,453.6 L269.1,457.7 L290.9,448.2 L312.7,450.4 L334.5,455.0 L350.9,452.3 L367.3,461.8 L386.4,467.3 L405.5,470.0 L430.0,474.1 L438.2,468.6 L421.8,459.1 L419.1,450.9 L432.7,445.5 L421.8,442.7 L400.0,438.6 L405.5,433.2 L432.7,434.5 L468.2,430.5 L470.9,423.6 L473.6,431.8 L500.9,429.1 L525.5,430.5 L541.8,435.9 L550.0,450.9 L566.4,453.6 L585.5,444.1 L601.8,442.7 L618.2,459.1 L631.1,470.0 L635.3,481.1 L629.7,510.3 L635.3,521.4 L646.4,536.7 L653.3,538.0 L652.0,553.3 L659.6,551.9 L661.7,567.2 L665.8,572.8 L675.6,581.1 L681.1,589.4 L686.7,592.2 L695.0,592.9 L701.9,592.2 L708.9,575.6 L714.4,558.9 L717.2,547.8 L715.8,539.4 L690.8,482.5 L679.6,458.3 L671.2,425.0 L670.8,412.5 L675.4,400.0 L681.7,387.5 L694.2,372.9 L702.5,366.7 L719.2,360.4 L731.7,350.0 L744.2,337.5 L760.0,325.0 L780.0,320.0 L802.5,297.5 L820.0,295.0 L845.0,282.5 L855.0,275.0 L852.5,262.5 M840.7,232.4 L830.4,230.1 L825.3,232.4 L819.5,226.1 L829.3,226.7 L830.4,223.2 L817.8,214.1 L801.8,219.2 L816.7,220.9 L830.4,215.2 L829.3,204.9 L817.8,196.9 L805.8,193.4 L817.8,201.5 L828.1,199.2 L823.5,188.9 L819.0,180.8 L808.6,185.4 L799.5,184.3 L807.5,171.7 L806.4,183.1 L817.8,185.4 L825.8,188.9 L823.5,169.4 L822.4,160.2 L830.4,155.6 L839.6,149.9 L841.9,153.3 L835.0,157.9 L833.9,165.9 L830.4,174.0 L831.6,183.1 L839.6,188.9 L844.2,192.3 L845.3,198.0 L849.9,200.3 L846.5,206.0 L841.9,212.9 L840.2,220.9 L841.9,224.4 L844.2,215.2 L851.0,211.8 L860.2,196.9 L865.9,188.9 L868.2,183.1 L867.1,176.3 L862.5,168.2 L857.9,157.9 L853.3,152.2 L853.3,145.3 L860.2,140.7 L868.2,138.4 L870.5,132.7 M901.5,132.7 L900.3,138.4 L898.0,144.2 L890.0,152.2 L886.6,157.9 L879.7,164.8 L874.0,169.4 L871.7,168.2 L870.5,161.4 L862.5,157.9 M840.7,232.4 L843.0,240.4 L847.6,253.0 L853.3,263.3 L855.6,272.5 L854.5,280.5 L848.8,284.0 M816.7,253.0 L817.8,261.0 L828.1,259.9 L836.1,253.0 L841.9,256.5 L837.3,267.9 L844.2,272.5 L848.8,264.5 M807.5,274.8 L817.8,279.4 L825.8,277.1 L831.6,284.0 L825.8,287.4 L817.8,284.0 L808.6,287.4 L817.8,294.3 L830.4,293.1 M859.1,201.5 L865.9,190.0 L864.8,188.9 L857.9,200.3 L859.1,201.5" fill="none" stroke="#000" stroke-width="1.8" stroke-linejoin="round"/>
<path d="M1183.0,373.6 l5,-2 M1181.4,802.1 l5,-2 M1187.6,799.0 l5,-2 M1235.2,806.7 l5,-2 M1242.8,832.8 l5,-2 M1273.5,840.5 l5,-2 M1261.3,851.2 l5,-2 M1281.2,866.6 l5,-2 M1287.4,892.7 l5,-2 M1298.1,915.7 l5,-2 M1299.0,938.8 l5,-2 M1292.0,958.7 l5,-2 M1278.1,994.1 l5,-2 M1342.6,961.8 l5,-2 M1074.0,991.0 l5,-2 M1052.5,991.0 l5,-2 M1021.8,981.8 l5,-2 M1206.0,1027.8 l5,-2 M676.4,772.9 l5,-2 M719.4,760.6 l5,-2 M515.2,863.5 l5,-2 M503.0,739.1 l5,-2 M662.6,980.2 l5,-2" fill="none" stroke="#000" stroke-width="2.6" stroke-linecap="round"/>
<path d="M661.0,611.0 L675.0,607.5 L688.0,602.5 L697.0,596.0" fill="none" stroke="#000" stroke-width="3" stroke-dasharray="6,3,2,3" stroke-linecap="round"/>
<path d="M190.8,568.7 L158.6,565.6 L130.9,554.9 L120.2,536.4 L118.7,521.1 L94.1,496.5 M341.2,918.8 L342.8,897.3 L356.6,872.7 L396.5,872.1 L396.5,862.0 L365.8,835.9 L380.2,835.9 L380.2,818.4 L436.4,818.4 M436.4,814.4 L436.4,877.3 L444.1,877.3 M430.3,923.4 L436.4,903.5 L462.5,883.5 M407.2,943.4 L424.1,923.4 L430.3,923.4 M430.3,923.4 L456.4,936.3 L479.4,938.8 L477.8,954.1 M493.2,966.4 L511.6,943.4 L539.2,940.3 L566.9,911.1 L620.6,905.6 M542.3,1024.8 L566.9,1029.4 L603.7,1034.0 M628.3,1118.5 L628.3,1087.7 L637.5,1072.4 M798.7,1100.0 L803.3,1123.1 L781.8,1144.6 M982.9,1001.7 L953.7,1024.8 L935.3,1064.7 L950.6,1107.7 L962.9,1150.7 L1021.2,1150.7 L1042.7,1178.3 L1101.0,1175.3 L1091.8,1202.9 L1091.8,1236.7 L1107.2,1261.3 L1091.8,1279.7 L1116.4,1328.8 M1116.4,1328.8 L1121.0,1328.8 L1113.3,1313.5 L1079.6,1312.0 L1028.9,1313.5 L1028.9,1333.5 L1048.9,1335.0 L1042.7,1347.3 L1022.8,1348.8 L1022.8,1371.8 M752.6,1322.7 L787.9,1341.1 L830.9,1353.4 L861.6,1368.8 M1121.0,1328.8 L1162.5,1338.1 L1202.4,1319.6 L1208.5,1288.9 L1226.9,1295.1 L1208.5,1242.8 L1245.3,1242.8 L1300.6,1227.5 L1309.8,1206.0 M1309.8,1206.0 L1288.3,1184.5 L1309.8,1156.8 L1322.1,1147.6 L1331.3,1104.6 M1309.8,1206.0 L1331.3,1212.1 L1346.7,1242.8 L1332.8,1288.9 L1362.0,1324.2 L1392.7,1319.6 L1417.3,1304.3 L1438.8,1307.3 M1417.3,1184.5 L1414.2,1212.1 L1391.2,1242.8 L1414.2,1261.3 L1438.8,1307.3 M1438.8,1307.3 L1457.2,1288.9 L1497.1,1295.1 M1515.5,1190.6 L1501.7,1212.1 L1515.5,1255.1 L1497.1,1295.1 M1497.1,1295.1 L1521.6,1295.1 L1549.3,1298.1 L1561.5,1267.4 L1586.1,1236.7 M970.6,760.6 L972.1,788.3 L970.6,811.3" fill="none" stroke="#000" stroke-width="0.9" stroke-linejoin="round"/>
<g font-size="20.5" font-family="Liberation Sans, sans-serif" fill="#000"><text transform="translate(915,196) rotate(-42)" y="7.2" text-anchor="middle" stroke="#5e4fa2" stroke-width="5" paint-order="stroke" stroke-linejoin="round">-24</text><text transform="translate(966,193) rotate(-25)" y="7.2" text-anchor="middle" stroke="#6bc4a5" stroke-width="5" paint-order="stroke" stroke-linejoin="round">-16</text><text transform="translate(1352,243) rotate(48)" y="7.2" text-anchor="middle" stroke="#5e4fa2" stroke-width="5" paint-order="stroke" stroke-linejoin="round">-22</text><text transform="translate(1294,293) rotate(58)" y="7.2" text-anchor="middle" stroke="#3389bd" stroke-width="5" paint-order="stroke" stroke-linejoin="round">-18</text><text transform="translate(1254,307) rotate(58)" y="7.2" text-anchor="middle" stroke="#50a9af" stroke-width="5" paint-order="stroke" stroke-linejoin="round">-16</text><text transform="translate(1534,297) rotate(32)" y="7.2" text-anchor="middle" stroke="#5e4fa2" stroke-width="5" paint-order="stroke" stroke-linejoin="round">-24</text><text transform="translate(1395,333) rotate(35)" y="7.2" text-anchor="middle" stroke="#486cb0" stroke-width="5" paint-order="stroke" stroke-linejoin="round">-20</text><text transform="translate(772,303) rotate(-35)" y="7.2" text-anchor="middle" stroke="#486cb0" stroke-width="5" paint-order="stroke" stroke-linejoin="round">-20</text><text transform="translate(826,283) rotate(-40)" y="7.2" text-anchor="middle" stroke="#91d3a4" stroke-width="5" paint-order="stroke" stroke-linejoin="round">-14</text><text transform="translate(749,392) rotate(-35)" y="7.2" text-anchor="middle" stroke="#ebf7a0" stroke-width="5" paint-order="stroke" stroke-linejoin="round">-8</text><text transform="translate(565,395) rotate(-15)" y="7.2" text-anchor="middle" stroke="#5e4fa2" stroke-width="5" paint-order="stroke" stroke-linejoin="round">-22</text><text transform="translate(612,436) rotate(-15)" y="7.2" text-anchor="middle" stroke="#b3e0a2" stroke-width="5" paint-order="stroke" stroke-linejoin="round">-12</text><text transform="translate(398,466) rotate(-8)" y="7.2" text-anchor="middle" stroke="#50a9af" stroke-width="5" paint-order="stroke" stroke-linejoin="round">-18</text><text transform="translate(1196,464) rotate(30)" y="7.2" text-anchor="middle" stroke="#d1ed9c" stroke-width="5" paint-order="stroke" stroke-linejoin="round">-10</text><text transform="translate(472,552) rotate(-12)" y="7.2" text-anchor="middle" stroke="#f8fcb4" stroke-width="5" paint-order="stroke" stroke-linejoin="round">-6</text><text transform="translate(548,563) rotate(-5)" y="7.2" text-anchor="middle" stroke="#fee797" stroke-width="5" paint-order="stroke" stroke-linejoin="round">-2</text><text transform="translate(334,603) rotate(-10)" y="7.2" text-anchor="middle" stroke="#fff7b2" stroke-width="5" paint-order="stroke" stroke-linejoin="round">-4</text><text transform="translate(1485,685) rotate(0)" y="7.2" text-anchor="middle" stroke="#fed07e" stroke-width="5" paint-order="stroke" stroke-linejoin="round">0</text><text transform="translate(1331,743) rotate(15)" y="7.2" text-anchor="middle" stroke="#fdb768" stroke-width="5" paint-order="stroke" stroke-linejoin="round">2</text><text transform="translate(731,571) rotate(-35)" y="7.2" text-anchor="middle" stroke="#fdb768" stroke-width="5" paint-order="stroke" stroke-linejoin="round">2</text><text transform="translate(716,557) rotate(0)" y="7.2" text-anchor="middle" stroke="#fa9857" stroke-width="5" paint-order="stroke" stroke-linejoin="round">4</text><text transform="translate(760,628) rotate(-15)" y="7.2" text-anchor="middle" stroke="#fed07e" stroke-width="5" paint-order="stroke" stroke-linejoin="round">0</text><text transform="translate(610,667) rotate(0)" y="7.2" text-anchor="middle" stroke="#fa9857" stroke-width="5" paint-order="stroke" stroke-linejoin="round">4</text><text transform="translate(809,714) rotate(0)" y="7.2" text-anchor="middle" stroke="#fa9857" stroke-width="5" paint-order="stroke" stroke-linejoin="round">6</text><text transform="translate(853,733) rotate(60)" y="7.2" text-anchor="middle" stroke="#f57547" stroke-width="5" paint-order="stroke" stroke-linejoin="round">8</text><text transform="translate(842,769) rotate(0)" y="7.2" text-anchor="middle" stroke="#f57547" stroke-width="5" paint-order="stroke" stroke-linejoin="round">6</text><text transform="translate(886,805) rotate(0)" y="7.2" text-anchor="middle" stroke="#f57547" stroke-width="5" paint-order="stroke" stroke-linejoin="round">6</text><text transform="translate(993,796) rotate(0)" y="7.2" text-anchor="middle" stroke="#e85b48" stroke-width="5" paint-order="stroke" stroke-linejoin="round">8</text><text transform="translate(1069,809) rotate(0)" y="7.2" text-anchor="middle" stroke="#f57547" stroke-width="5" paint-order="stroke" stroke-linejoin="round">8</text><text transform="translate(978,763) rotate(0)" y="7.2" text-anchor="middle" stroke="#d7414e" stroke-width="5" paint-order="stroke" stroke-linejoin="round">10</text><text transform="translate(439,752) rotate(-25)" y="7.2" text-anchor="middle" stroke="#bc2249" stroke-width="5" paint-order="stroke" stroke-linejoin="round">12</text><text transform="translate(408,762) rotate(-40)" y="7.2" text-anchor="middle" stroke="#e85b48" stroke-width="5" paint-order="stroke" stroke-linejoin="round">10</text><text transform="translate(318,816) rotate(-10)" y="7.2" text-anchor="middle" stroke="#f57547" stroke-width="5" paint-order="stroke" stroke-linejoin="round">8</text><text transform="translate(180,891) rotate(0)" y="7.2" text-anchor="middle" stroke="#9e0142" stroke-width="5" paint-order="stroke" stroke-linejoin="round">16</text><text transform="translate(470,883) rotate(0)" y="7.2" text-anchor="middle" stroke="#e85b48" stroke-width="5" paint-order="stroke" stroke-linejoin="round">10</text><text transform="translate(792,910) rotate(-20)" y="7.2" text-anchor="middle" stroke="#d7414e" stroke-width="5" paint-order="stroke" stroke-linejoin="round">10</text><text transform="translate(732,955) rotate(-25)" y="7.2" text-anchor="middle" stroke="#e85b48" stroke-width="5" paint-order="stroke" stroke-linejoin="round">10</text><text transform="translate(1377,886) rotate(0)" y="7.2" text-anchor="middle" stroke="#f57547" stroke-width="5" paint-order="stroke" stroke-linejoin="round">6</text><text transform="translate(1318,903) rotate(30)" y="7.2" text-anchor="middle" stroke="#f57547" stroke-width="5" paint-order="stroke" stroke-linejoin="round">6</text><text transform="translate(1262,934) rotate(-40)" y="7.2" text-anchor="middle" stroke="#f57547" stroke-width="5" paint-order="stroke" stroke-linejoin="round">8</text><text transform="translate(114,982) rotate(72)" y="7.2" text-anchor="middle" stroke="#d7414e" stroke-width="5" paint-order="stroke" stroke-linejoin="round">12</text><text transform="translate(187,1088) rotate(20)" y="7.2" text-anchor="middle" stroke="#e85b48" stroke-width="5" paint-order="stroke" stroke-linejoin="round">10</text><text transform="translate(614,1093) rotate(60)" y="7.2" text-anchor="middle" stroke="#9e0142" stroke-width="5" paint-order="stroke" stroke-linejoin="round">16</text><text transform="translate(577,1103) rotate(35)" y="7.2" text-anchor="middle" stroke="#bc2249" stroke-width="5" paint-order="stroke" stroke-linejoin="round">14</text><text transform="translate(1256,1100) rotate(50)" y="7.2" text-anchor="middle" stroke="#bc2249" stroke-width="5" paint-order="stroke" stroke-linejoin="round">14</text><text transform="translate(1452,1120) rotate(-40)" y="7.2" text-anchor="middle" stroke="#d7414e" stroke-width="5" paint-order="stroke" stroke-linejoin="round">12</text><text transform="translate(1576,1167) rotate(-10)" y="7.2" text-anchor="middle" stroke="#bc2249" stroke-width="5" paint-order="stroke" stroke-linejoin="round">14</text><text transform="translate(1577,1231) rotate(0)" y="7.2" text-anchor="middle" stroke="#bc2249" stroke-width="5" paint-order="stroke" stroke-linejoin="round">12</text><text transform="translate(233,1226) rotate(80)" y="7.2" text-anchor="middle" stroke="#f57547" stroke-width="5" paint-order="stroke" stroke-linejoin="round">8</text><text transform="translate(123,1257) rotate(30)" y="7.2" text-anchor="middle" stroke="#fa9857" stroke-width="5" paint-order="stroke" stroke-linejoin="round">6</text><text transform="translate(355,1259) rotate(-60)" y="7.2" text-anchor="middle" stroke="#d7414e" stroke-width="5" paint-order="stroke" stroke-linejoin="round">10</text><text transform="translate(455,1326) rotate(60)" y="7.2" text-anchor="middle" stroke="#f57547" stroke-width="5" paint-order="stroke" stroke-linejoin="round">8</text><text transform="translate(593,1322) rotate(-30)" y="7.2" text-anchor="middle" stroke="#f57547" stroke-width="5" paint-order="stroke" stroke-linejoin="round">8</text><text transform="translate(118,1343) rotate(40)" y="7.2" text-anchor="middle" stroke="#fa9857" stroke-width="5" paint-order="stroke" stroke-linejoin="round">6</text><text transform="translate(1489,1296) rotate(80)" y="7.2" text-anchor="middle" stroke="#9e0142" stroke-width="5" paint-order="stroke" stroke-linejoin="round">16</text></g>
</g>
<rect x="102.0" y="137.0" width="1536.0" height="1228.7" fill="none" stroke="#000" stroke-width="2.2"/>
<text x="870.3" y="56.0" font-size="28" text-anchor="middle" textLength="1173.0" lengthAdjust="spacingAndGlyphs" >GFS — θe de saturación media 1000–700 hPa — ANOMALÍA (sombreado y contornos)</text>
<text x="871.3" y="87.2" font-size="28" text-anchor="middle" textLength="771.5" lengthAdjust="spacingAndGlyphs" xml:space="preserve">Inicialización: 20251229 06Z   •   Pronóstico: f015 (UTC)</text>
<text x="871.2" y="122.3" font-size="28" text-anchor="middle" textLength="443.0" lengthAdjust="spacingAndGlyphs" >Instituto Meteorológico Nacional</text>
<text x="88.6" y="1218.9" font-size="24.5" text-anchor="end" textLength="43.4" lengthAdjust="spacingAndGlyphs" >5°N</text>
<text x="88.6" y="1065.4" font-size="24.5" text-anchor="end" textLength="59.4" lengthAdjust="spacingAndGlyphs" >10°N</text>
<text x="88.6" y="911.8" font-size="24.5" text-anchor="end" textLength="59.4" lengthAdjust="spacingAndGlyphs" >15°N</text>
<text x="88.6" y="758.2" font-size="24.5" text-anchor="end" textLength="59.4" lengthAdjust="spacingAndGlyphs" >20°N</text>
<text x="88.6" y="604.7" font-size="24.5" text-anchor="end" textLength="59.4" lengthAdjust="spacingAndGlyphs" >25°N</text>
<text x="88.6" y="451.1" font-size="24.5" text-anchor="end" textLength="59.4" lengthAdjust="spacingAndGlyphs" >30°N</text>
<text x="88.6" y="297.5" font-size="24.5" text-anchor="end" textLength="59.4" lengthAdjust="spacingAndGlyphs" >35°N</text>
<text x="409.8" y="1397.2" font-size="24.5" text-anchor="middle" textLength="65.4" lengthAdjust="spacingAndGlyphs" >90°W</text>
<text x="716.8" y="1397.2" font-size="24.5" text-anchor="middle" textLength="65.4" lengthAdjust="spacingAndGlyphs" >80°W</text>
<text x="1023.8" y="1397.2" font-size="24.5" text-anchor="middle" textLength="65.4" lengthAdjust="spacingAndGlyphs" >70°W</text>
<text x="1330.8" y="1397.2" font-size="24.5" text-anchor="middle" textLength="65.4" lengthAdjust="spacingAndGlyphs" >60°W</text>
<rect x="1675.0" y="1286.39" width="60.0" height="60.11" fill="#5e4fa2"/>
<rect x="1675.0" y="1226.88" width="60.0" height="60.11" fill="#486cb0"/>
<rect x="1675.0" y="1167.37" width="60.0" height="60.11" fill="#3389bd"/>
<rect x="1675.0" y="1107.86" width="60.0" height="60.11" fill="#50a9af"/>
<rect x="1675.0" y="1048.35" width="60.0" height="60.11" fill="#6bc4a5"/>
<rect x="1675.0" y="988.84" width="60.0" height="60.11" fill="#91d3a4"/>
<rect x="1675.0" y="929.33" width="60.0" height="60.11" fill="#b3e0a2"/>
<rect x="1675.0" y="869.82" width="60.0" height="60.11" fill="#d1ed9c"/>
<rect x="1675.0" y="810.31" width="60.0" height="60.11" fill="#ebf7a0"/>
<rect x="1675.0" y="750.80" width="60.0" height="60.11" fill="#f8fcb4"/>
<rect x="1675.0" y="691.29" width="60.0" height="60.11" fill="#fff7b2"/>
<rect x="1675.0" y="631.78" width="60.0" height="60.11" fill="#fee797"/>
<rect x="1675.0" y="572.27" width="60.0" height="60.11" fill="#fed07e"/>
<rect x="1675.0" y="512.76" width="60.0" height="60.11" fill="#fdb768"/>
<rect x="1675.0" y="453.25" width="60.0" height="60.11" fill="#fa9857"/>
<rect x="1675.0" y="393.74" width="60.0" height="60.11" fill="#f57547"/>
<rect x="1675.0" y="334.23" width="60.0" height="60.11" fill="#e85b48"/>
<rect x="1675.0" y="274.72" width="60.0" height="60.11" fill="#d7414e"/>
<rect x="1675.0" y="215.21" width="60.0" height="60.11" fill="#bc2249"/>
<rect x="1675.0" y="155.70" width="60.0" height="60.11" fill="#9e0142"/>
<rect x="1675.0" y="156.0" width="60.0" height="1190.2" fill="none" stroke="#000" stroke-width="2.2"/>
<line x1="1735.0" y1="1346.20" x2="1744.3" y2="1346.20" stroke="#000" stroke-width="2.2"/>
<text x="1755.5" y="1355.4" font-size="24.5" text-anchor="start" textLength="47.5" lengthAdjust="spacingAndGlyphs" >−24</text>
<line x1="1735.0" y1="1286.69" x2="1744.3" y2="1286.69" stroke="#000" stroke-width="2.2"/>
<text x="1755.5" y="1295.9" font-size="24.5" text-anchor="start" textLength="47.5" lengthAdjust="spacingAndGlyphs" >−22</text>
<line x1="1735.0" y1="1227.18" x2="1744.3" y2="1227.18" stroke="#000" stroke-width="2.2"/>
<text x="1755.5" y="1236.4" font-size="24.5" text-anchor="start" textLength="47.5" lengthAdjust="spacingAndGlyphs" >−20</text>
<line x1="1735.0" y1="1167.67" x2="1744.3" y2="1167.67" stroke="#000" stroke-width="2.2"/>
<text x="1755.5" y="1176.9" font-size="24.5" text-anchor="start" textLength="47.5" lengthAdjust="spacingAndGlyphs" >−18</text>
<line x1="1735.0" y1="1108.16" x2="1744.3" y2="1108.16" stroke="#000" stroke-width="2.2"/>
<text x="1755.5" y="1117.4" font-size="24.5" text-anchor="start" textLength="47.5" lengthAdjust="spacingAndGlyphs" >−16</text>
<line x1="1735.0" y1="1048.65" x2="1744.3" y2="1048.65" stroke="#000" stroke-width="2.2"/>
<text x="1755.5" y="1057.9" font-size="24.5" text-anchor="start" textLength="47.5" lengthAdjust="spacingAndGlyphs" >−14</text>
<line x1="1735.0" y1="989.14" x2="1744.3" y2="989.14" stroke="#000" stroke-width="2.2"/>
<text x="1755.5" y="998.3" font-size="24.5" text-anchor="start" textLength="47.5" lengthAdjust="spacingAndGlyphs" >−12</text>
<line x1="1735.0" y1="929.63" x2="1744.3" y2="929.63" stroke="#000" stroke-width="2.2"/>
<text x="1755.5" y="938.8" font-size="24.5" text-anchor="start" textLength="47.5" lengthAdjust="spacingAndGlyphs" >−10</text>
<line x1="1735.0" y1="870.12" x2="1744.3" y2="870.12" stroke="#000" stroke-width="2.2"/>
<text x="1755.5" y="879.3" font-size="24.5" text-anchor="start" textLength="32.5" lengthAdjust="spacingAndGlyphs" >−8</text>
<line x1="1735.0" y1="810.61" x2="1744.3" y2="810.61" stroke="#000" stroke-width="2.2"/>
<text x="1755.5" y="819.8" font-size="24.5" text-anchor="start" textLength="32.5" lengthAdjust="spacingAndGlyphs" >−6</text>
<line x1="1735.0" y1="751.10" x2="1744.3" y2="751.10" stroke="#000" stroke-width="2.2"/>
<text x="1755.5" y="760.3" font-size="24.5" text-anchor="start" textLength="32.5" lengthAdjust="spacingAndGlyphs" >−4</text>
<line x1="1735.0" y1="691.59" x2="1744.3" y2="691.59" stroke="#000" stroke-width="2.2"/>
<text x="1755.5" y="700.8" font-size="24.5" text-anchor="start" textLength="32.5" lengthAdjust="spacingAndGlyphs" >−2</text>
<line x1="1735.0" y1="632.08" x2="1744.3" y2="632.08" stroke="#000" stroke-width="2.2"/>
<text x="1754.0" y="641.3" font-size="24.5" text-anchor="start" textLength="13.0" lengthAdjust="spacingAndGlyphs" >0</text>
<line x1="1735.0" y1="572.57" x2="1744.3" y2="572.57" stroke="#000" stroke-width="2.2"/>
<text x="1754.0" y="581.8" font-size="24.5" text-anchor="start" textLength="13.0" lengthAdjust="spacingAndGlyphs" >2</text>
<line x1="1735.0" y1="513.06" x2="1744.3" y2="513.06" stroke="#000" stroke-width="2.2"/>
<text x="1754.0" y="522.3" font-size="24.5" text-anchor="start" textLength="13.0" lengthAdjust="spacingAndGlyphs" >4</text>
<line x1="1735.0" y1="453.55" x2="1744.3" y2="453.55" stroke="#000" stroke-width="2.2"/>
<text x="1754.0" y="462.7" font-size="24.5" text-anchor="start" textLength="13.0" lengthAdjust="spacingAndGlyphs" >6</text>
<line x1="1735.0" y1="394.04" x2="1744.3" y2="394.04" stroke="#000" stroke-width="2.2"/>
<text x="1754.0" y="403.2" font-size="24.5" text-anchor="start" textLength="13.0" lengthAdjust="spacingAndGlyphs" >8</text>
<line x1="1735.0" y1="334.53" x2="1744.3" y2="334.53" stroke="#000" stroke-width="2.2"/>
<text x="1754.0" y="343.7" font-size="24.5" text-anchor="start" textLength="28.5" lengthAdjust="spacingAndGlyphs" >10</text>
<line x1="1735.0" y1="275.02" x2="1744.3" y2="275.02" stroke="#000" stroke-width="2.2"/>
<text x="1754.0" y="284.2" font-size="24.5" text-anchor="start" textLength="28.5" lengthAdjust="spacingAndGlyphs" >12</text>
<line x1="1735.0" y1="215.51" x2="1744.3" y2="215.51" stroke="#000" stroke-width="2.2"/>
<text x="1754.0" y="224.7" font-size="24.5" text-anchor="start" textLength="28.5" lengthAdjust="spacingAndGlyphs" >14</text>
<line x1="1735.0" y1="156.00" x2="1744.3" y2="156.00" stroke="#000" stroke-width="2.2"/>
<text x="1754.0" y="165.2" font-size="24.5" text-anchor="start" textLength="28.5" lengthAdjust="spacingAndGlyphs" >16</text>
<text transform="translate(1833.5,752.5) rotate(-90)" font-size="24.5" text-anchor="middle" textLength="699" lengthAdjust="spacingAndGlyphs">Anomalía de θe de saturación media 1000–700 hPa [°C]</text>
</svg></body></html>
